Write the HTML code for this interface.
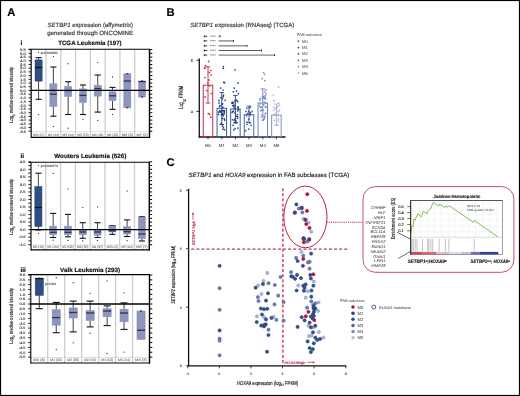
<!DOCTYPE html>
<html><head><meta charset="utf-8"><style>
html,body{margin:0;padding:0;background:#fff;}
body{width:520px;height:396px;overflow:hidden;}
svg{display:block;font-family:"Liberation Sans", sans-serif;filter:blur(0.3px);text-rendering:geometricPrecision;}
</style></head><body>
<svg width="520" height="396" viewBox="0 0 520 396">
<rect x="0" y="0" width="520" height="396" fill="#fff"/>
<text x="7.20" y="16.30" font-size="11.2" text-anchor="start" stroke="#000" stroke-width="0.16" font-weight="bold" fill="#000">A</text>
<text x="166.50" y="16.30" font-size="11.2" text-anchor="start" stroke="#000" stroke-width="0.16" font-weight="bold" fill="#000">B</text>
<text x="166.60" y="166.10" font-size="11.2" text-anchor="start" stroke="#000" stroke-width="0.16" font-weight="bold" fill="#000">C</text>
<text x="90.20" y="27.40" font-size="6.0" text-anchor="middle" stroke="#333" stroke-width="0.16" fill="#333" textLength="85.4" lengthAdjust="spacingAndGlyphs"><tspan font-style="italic">SETBP1</tspan> expression (affymetrix)</text>
<text x="90.20" y="35.10" font-size="6.0" text-anchor="middle" stroke="#333" stroke-width="0.16" fill="#333" textLength="85.9" lengthAdjust="spacingAndGlyphs">generated through ONCOMINE</text>
<text x="20.50" y="44.80" font-size="6.4" text-anchor="start" stroke="#000" stroke-width="0.16" font-weight="bold" fill="#000">i</text>
<text x="89.90" y="44.80" font-size="6.2" text-anchor="middle" stroke="#111" stroke-width="0.16" font-weight="bold" fill="#111" textLength="63.5" lengthAdjust="spacingAndGlyphs">TCGA Leukemia (197)</text>
<line x1="45.99" y1="49.30" x2="45.99" y2="137.40" stroke="#cdcdcd" stroke-width="1.3"/>
<line x1="60.77" y1="49.30" x2="60.77" y2="137.40" stroke="#cdcdcd" stroke-width="1.3"/>
<line x1="75.56" y1="49.30" x2="75.56" y2="137.40" stroke="#cdcdcd" stroke-width="1.3"/>
<line x1="90.35" y1="49.30" x2="90.35" y2="137.40" stroke="#cdcdcd" stroke-width="1.3"/>
<line x1="105.14" y1="49.30" x2="105.14" y2="137.40" stroke="#cdcdcd" stroke-width="1.3"/>
<line x1="119.92" y1="49.30" x2="119.92" y2="137.40" stroke="#cdcdcd" stroke-width="1.3"/>
<line x1="134.71" y1="49.30" x2="134.71" y2="137.40" stroke="#cdcdcd" stroke-width="1.3"/>
<line x1="31.20" y1="131.66" x2="149.50" y2="131.66" stroke="#c8c8c8" stroke-width="0.6"/>
<line x1="38.59" y1="57.60" x2="38.59" y2="59.90" stroke="#111" stroke-width="0.8"/>
<line x1="35.54" y1="57.60" x2="41.65" y2="57.60" stroke="#111" stroke-width="1.1"/>
<line x1="38.59" y1="81.10" x2="38.59" y2="99.30" stroke="#111" stroke-width="0.8"/>
<line x1="35.54" y1="99.30" x2="41.65" y2="99.30" stroke="#111" stroke-width="1.1"/>
<rect x="35.04" y="59.90" width="7.10" height="21.20" fill="#2f4e82" stroke="#1f3b72" stroke-width="0.5"/>
<line x1="35.04" y1="67.50" x2="42.14" y2="67.50" stroke="#111" stroke-width="1.3"/>
<circle cx="38.59" cy="114.50" r="0.6" fill="#111"/>
<text x="38.59" y="135.50" font-size="3.4" text-anchor="middle" stroke="#555" stroke-width="0.04" fill="#555" textLength="11.2875" lengthAdjust="spacingAndGlyphs">M0 (17)</text>
<line x1="53.38" y1="67.00" x2="53.38" y2="83.80" stroke="#111" stroke-width="0.8"/>
<line x1="50.33" y1="67.00" x2="56.43" y2="67.00" stroke="#111" stroke-width="1.1"/>
<line x1="53.38" y1="106.60" x2="53.38" y2="116.20" stroke="#111" stroke-width="0.8"/>
<line x1="50.33" y1="116.20" x2="56.43" y2="116.20" stroke="#111" stroke-width="1.1"/>
<rect x="49.83" y="83.80" width="7.10" height="22.80" fill="#8d95bd" stroke="#838bb6" stroke-width="0.5"/>
<line x1="49.83" y1="94.20" x2="56.93" y2="94.20" stroke="#2e3350" stroke-width="1.3"/>
<circle cx="53.38" cy="56.50" r="0.6" fill="#111"/>
<circle cx="53.38" cy="126.50" r="0.6" fill="#111"/>
<text x="53.38" y="135.50" font-size="3.4" text-anchor="middle" stroke="#555" stroke-width="0.04" fill="#555" textLength="11.2875" lengthAdjust="spacingAndGlyphs">M1 (44)</text>
<line x1="68.17" y1="81.70" x2="68.17" y2="86.50" stroke="#111" stroke-width="0.8"/>
<line x1="65.12" y1="81.70" x2="71.22" y2="81.70" stroke="#111" stroke-width="1.1"/>
<line x1="68.17" y1="96.60" x2="68.17" y2="114.50" stroke="#111" stroke-width="0.8"/>
<line x1="65.12" y1="114.50" x2="71.22" y2="114.50" stroke="#111" stroke-width="1.1"/>
<rect x="64.62" y="86.50" width="7.10" height="10.10" fill="#8d95bd" stroke="#838bb6" stroke-width="0.5"/>
<line x1="64.62" y1="90.60" x2="71.72" y2="90.60" stroke="#2e3350" stroke-width="1.3"/>
<circle cx="68.17" cy="63.70" r="0.6" fill="#111"/>
<circle cx="68.17" cy="128.20" r="0.6" fill="#111"/>
<text x="68.17" y="135.50" font-size="3.4" text-anchor="middle" stroke="#555" stroke-width="0.04" fill="#555" textLength="11.2875" lengthAdjust="spacingAndGlyphs">M2 (44)</text>
<line x1="82.96" y1="85.00" x2="82.96" y2="88.90" stroke="#111" stroke-width="0.8"/>
<line x1="79.90" y1="85.00" x2="86.01" y2="85.00" stroke="#111" stroke-width="1.1"/>
<line x1="82.96" y1="102.60" x2="82.96" y2="114.50" stroke="#111" stroke-width="0.8"/>
<line x1="79.90" y1="114.50" x2="86.01" y2="114.50" stroke="#111" stroke-width="1.1"/>
<rect x="79.41" y="88.90" width="7.10" height="13.70" fill="#8d95bd" stroke="#838bb6" stroke-width="0.5"/>
<line x1="79.41" y1="95.40" x2="86.51" y2="95.40" stroke="#2e3350" stroke-width="1.3"/>
<circle cx="82.96" cy="119.30" r="0.6" fill="#111"/>
<text x="82.96" y="135.50" font-size="3.4" text-anchor="middle" stroke="#555" stroke-width="0.04" fill="#555" textLength="11.2875" lengthAdjust="spacingAndGlyphs">M3 (20)</text>
<line x1="97.74" y1="75.00" x2="97.74" y2="85.30" stroke="#111" stroke-width="0.8"/>
<line x1="94.69" y1="75.00" x2="100.80" y2="75.00" stroke="#111" stroke-width="1.1"/>
<line x1="97.74" y1="96.10" x2="97.74" y2="112.10" stroke="#111" stroke-width="0.8"/>
<line x1="94.69" y1="112.10" x2="100.80" y2="112.10" stroke="#111" stroke-width="1.1"/>
<rect x="94.19" y="85.30" width="7.10" height="10.80" fill="#8d95bd" stroke="#838bb6" stroke-width="0.5"/>
<line x1="94.19" y1="88.60" x2="101.29" y2="88.60" stroke="#2e3350" stroke-width="1.3"/>
<circle cx="97.74" cy="62.50" r="0.6" fill="#111"/>
<circle cx="97.74" cy="120.50" r="0.6" fill="#111"/>
<text x="97.74" y="135.50" font-size="3.4" text-anchor="middle" stroke="#555" stroke-width="0.04" fill="#555" textLength="11.2875" lengthAdjust="spacingAndGlyphs">M4 (40)</text>
<line x1="112.53" y1="87.40" x2="112.53" y2="91.80" stroke="#111" stroke-width="0.8"/>
<line x1="109.48" y1="87.40" x2="115.58" y2="87.40" stroke="#111" stroke-width="1.1"/>
<line x1="112.53" y1="100.60" x2="112.53" y2="109.30" stroke="#111" stroke-width="0.8"/>
<line x1="109.48" y1="109.30" x2="115.58" y2="109.30" stroke="#111" stroke-width="1.1"/>
<rect x="108.98" y="91.80" width="7.10" height="8.80" fill="#8d95bd" stroke="#838bb6" stroke-width="0.5"/>
<line x1="108.98" y1="95.80" x2="116.08" y2="95.80" stroke="#2e3350" stroke-width="1.3"/>
<circle cx="112.53" cy="76.90" r="0.6" fill="#111"/>
<circle cx="112.53" cy="114.50" r="0.6" fill="#111"/>
<text x="112.53" y="135.50" font-size="3.4" text-anchor="middle" stroke="#555" stroke-width="0.04" fill="#555" textLength="11.2875" lengthAdjust="spacingAndGlyphs">M5 (20)</text>
<rect x="123.77" y="73.80" width="7.10" height="34.00" fill="#8d95bd" stroke="#838bb6" stroke-width="0.5"/>
<line x1="123.77" y1="81.00" x2="130.87" y2="81.00" stroke="#2e3350" stroke-width="1.3"/>
<text x="127.32" y="135.50" font-size="3.4" text-anchor="middle" stroke="#555" stroke-width="0.04" fill="#555" textLength="11.2875" lengthAdjust="spacingAndGlyphs">M6 (3)</text>
<line x1="126.32" y1="73.80" x2="128.32" y2="73.80" stroke="#111" stroke-width="1.0"/>
<line x1="126.32" y1="107.80" x2="128.32" y2="107.80" stroke="#111" stroke-width="1.0"/>
<rect x="138.56" y="81.00" width="7.10" height="16.00" fill="#8d95bd" stroke="#838bb6" stroke-width="0.5"/>
<line x1="138.56" y1="81.60" x2="145.66" y2="81.60" stroke="#2e3350" stroke-width="1.3"/>
<text x="142.11" y="135.50" font-size="3.4" text-anchor="middle" stroke="#555" stroke-width="0.04" fill="#555" textLength="11.2875" lengthAdjust="spacingAndGlyphs">M7 (3)</text>
<line x1="141.11" y1="81.00" x2="143.11" y2="81.00" stroke="#111" stroke-width="1.0"/>
<line x1="141.11" y1="97.00" x2="143.11" y2="97.00" stroke="#111" stroke-width="1.0"/>
<line x1="30.20" y1="90.45" x2="149.50" y2="90.45" stroke="#000" stroke-width="1.3"/>
<line x1="31.20" y1="49.30" x2="31.20" y2="137.90" stroke="#000" stroke-width="1.1"/>
<line x1="28.70" y1="49.30" x2="150.00" y2="49.30" stroke="#000" stroke-width="1.1"/>
<line x1="149.50" y1="49.30" x2="149.50" y2="137.90" stroke="#000" stroke-width="1.4"/>
<line x1="31.20" y1="137.40" x2="150.00" y2="137.40" stroke="#000" stroke-width="1.2"/>
<line x1="28.50" y1="49.64" x2="31.20" y2="49.64" stroke="#111" stroke-width="0.9"/>
<line x1="149.50" y1="49.64" x2="152.30" y2="49.64" stroke="#000" stroke-width="1.0"/>
<text x="25.70" y="50.94" font-size="3.6" text-anchor="end" stroke="#333" stroke-width="0.14" fill="#333" textLength="5.7" lengthAdjust="spacingAndGlyphs">5.5</text>
<line x1="29.70" y1="51.49" x2="31.20" y2="51.49" stroke="#444" stroke-width="0.5"/>
<line x1="28.50" y1="53.35" x2="31.20" y2="53.35" stroke="#111" stroke-width="0.9"/>
<line x1="149.50" y1="53.35" x2="152.30" y2="53.35" stroke="#000" stroke-width="1.0"/>
<text x="25.70" y="54.65" font-size="3.6" text-anchor="end" stroke="#333" stroke-width="0.14" fill="#333" textLength="5.7" lengthAdjust="spacingAndGlyphs">5.0</text>
<line x1="29.70" y1="55.20" x2="31.20" y2="55.20" stroke="#444" stroke-width="0.5"/>
<line x1="28.50" y1="57.06" x2="31.20" y2="57.06" stroke="#111" stroke-width="0.9"/>
<line x1="149.50" y1="57.06" x2="152.30" y2="57.06" stroke="#000" stroke-width="1.0"/>
<text x="25.70" y="58.36" font-size="3.6" text-anchor="end" stroke="#333" stroke-width="0.14" fill="#333" textLength="5.7" lengthAdjust="spacingAndGlyphs">4.5</text>
<line x1="29.70" y1="58.91" x2="31.20" y2="58.91" stroke="#444" stroke-width="0.5"/>
<line x1="28.50" y1="60.77" x2="31.20" y2="60.77" stroke="#111" stroke-width="0.9"/>
<line x1="149.50" y1="60.77" x2="152.30" y2="60.77" stroke="#000" stroke-width="1.0"/>
<text x="25.70" y="62.07" font-size="3.6" text-anchor="end" stroke="#333" stroke-width="0.14" fill="#333" textLength="5.7" lengthAdjust="spacingAndGlyphs">4.0</text>
<line x1="29.70" y1="62.62" x2="31.20" y2="62.62" stroke="#444" stroke-width="0.5"/>
<line x1="28.50" y1="64.48" x2="31.20" y2="64.48" stroke="#111" stroke-width="0.9"/>
<line x1="149.50" y1="64.48" x2="152.30" y2="64.48" stroke="#000" stroke-width="1.0"/>
<text x="25.70" y="65.78" font-size="3.6" text-anchor="end" stroke="#333" stroke-width="0.14" fill="#333" textLength="5.7" lengthAdjust="spacingAndGlyphs">3.5</text>
<line x1="29.70" y1="66.34" x2="31.20" y2="66.34" stroke="#444" stroke-width="0.5"/>
<line x1="28.50" y1="68.19" x2="31.20" y2="68.19" stroke="#111" stroke-width="0.9"/>
<line x1="149.50" y1="68.19" x2="152.30" y2="68.19" stroke="#000" stroke-width="1.0"/>
<text x="25.70" y="69.49" font-size="3.6" text-anchor="end" stroke="#333" stroke-width="0.14" fill="#333" textLength="5.7" lengthAdjust="spacingAndGlyphs">3.0</text>
<line x1="29.70" y1="70.05" x2="31.20" y2="70.05" stroke="#444" stroke-width="0.5"/>
<line x1="28.50" y1="71.90" x2="31.20" y2="71.90" stroke="#111" stroke-width="0.9"/>
<line x1="149.50" y1="71.90" x2="152.30" y2="71.90" stroke="#000" stroke-width="1.0"/>
<text x="25.70" y="73.20" font-size="3.6" text-anchor="end" stroke="#333" stroke-width="0.14" fill="#333" textLength="5.7" lengthAdjust="spacingAndGlyphs">2.5</text>
<line x1="29.70" y1="73.76" x2="31.20" y2="73.76" stroke="#444" stroke-width="0.5"/>
<line x1="28.50" y1="75.61" x2="31.20" y2="75.61" stroke="#111" stroke-width="0.9"/>
<line x1="149.50" y1="75.61" x2="152.30" y2="75.61" stroke="#000" stroke-width="1.0"/>
<text x="25.70" y="76.91" font-size="3.6" text-anchor="end" stroke="#333" stroke-width="0.14" fill="#333" textLength="5.7" lengthAdjust="spacingAndGlyphs">2.0</text>
<line x1="29.70" y1="77.47" x2="31.20" y2="77.47" stroke="#444" stroke-width="0.5"/>
<line x1="28.50" y1="79.32" x2="31.20" y2="79.32" stroke="#111" stroke-width="0.9"/>
<line x1="149.50" y1="79.32" x2="152.30" y2="79.32" stroke="#000" stroke-width="1.0"/>
<text x="25.70" y="80.62" font-size="3.6" text-anchor="end" stroke="#333" stroke-width="0.14" fill="#333" textLength="5.7" lengthAdjust="spacingAndGlyphs">1.5</text>
<line x1="29.70" y1="81.18" x2="31.20" y2="81.18" stroke="#444" stroke-width="0.5"/>
<line x1="28.50" y1="83.03" x2="31.20" y2="83.03" stroke="#111" stroke-width="0.9"/>
<line x1="149.50" y1="83.03" x2="152.30" y2="83.03" stroke="#000" stroke-width="1.0"/>
<text x="25.70" y="84.33" font-size="3.6" text-anchor="end" stroke="#333" stroke-width="0.14" fill="#333" textLength="5.7" lengthAdjust="spacingAndGlyphs">1.0</text>
<line x1="29.70" y1="84.89" x2="31.20" y2="84.89" stroke="#444" stroke-width="0.5"/>
<line x1="28.50" y1="86.74" x2="31.20" y2="86.74" stroke="#111" stroke-width="0.9"/>
<line x1="149.50" y1="86.74" x2="152.30" y2="86.74" stroke="#000" stroke-width="1.0"/>
<text x="25.70" y="88.04" font-size="3.6" text-anchor="end" stroke="#333" stroke-width="0.14" fill="#333" textLength="5.7" lengthAdjust="spacingAndGlyphs">0.5</text>
<line x1="29.70" y1="88.60" x2="31.20" y2="88.60" stroke="#444" stroke-width="0.5"/>
<line x1="28.50" y1="90.45" x2="31.20" y2="90.45" stroke="#111" stroke-width="0.9"/>
<line x1="149.50" y1="90.45" x2="152.30" y2="90.45" stroke="#000" stroke-width="1.0"/>
<text x="25.70" y="91.75" font-size="3.6" text-anchor="end" stroke="#333" stroke-width="0.14" fill="#333" textLength="5.7" lengthAdjust="spacingAndGlyphs">0.0</text>
<line x1="29.70" y1="92.31" x2="31.20" y2="92.31" stroke="#444" stroke-width="0.5"/>
<line x1="28.50" y1="94.16" x2="31.20" y2="94.16" stroke="#111" stroke-width="0.9"/>
<line x1="149.50" y1="94.16" x2="152.30" y2="94.16" stroke="#000" stroke-width="1.0"/>
<text x="25.70" y="95.46" font-size="3.6" text-anchor="end" stroke="#333" stroke-width="0.14" fill="#333" textLength="6.2" lengthAdjust="spacingAndGlyphs">-0.5</text>
<line x1="29.70" y1="96.02" x2="31.20" y2="96.02" stroke="#444" stroke-width="0.5"/>
<line x1="28.50" y1="97.87" x2="31.20" y2="97.87" stroke="#111" stroke-width="0.9"/>
<line x1="149.50" y1="97.87" x2="152.30" y2="97.87" stroke="#000" stroke-width="1.0"/>
<text x="25.70" y="99.17" font-size="3.6" text-anchor="end" stroke="#333" stroke-width="0.14" fill="#333" textLength="6.2" lengthAdjust="spacingAndGlyphs">-1.0</text>
<line x1="29.70" y1="99.73" x2="31.20" y2="99.73" stroke="#444" stroke-width="0.5"/>
<line x1="28.50" y1="101.58" x2="31.20" y2="101.58" stroke="#111" stroke-width="0.9"/>
<line x1="149.50" y1="101.58" x2="152.30" y2="101.58" stroke="#000" stroke-width="1.0"/>
<text x="25.70" y="102.88" font-size="3.6" text-anchor="end" stroke="#333" stroke-width="0.14" fill="#333" textLength="6.2" lengthAdjust="spacingAndGlyphs">-1.5</text>
<line x1="29.70" y1="103.44" x2="31.20" y2="103.44" stroke="#444" stroke-width="0.5"/>
<line x1="28.50" y1="105.29" x2="31.20" y2="105.29" stroke="#111" stroke-width="0.9"/>
<line x1="149.50" y1="105.29" x2="152.30" y2="105.29" stroke="#000" stroke-width="1.0"/>
<text x="25.70" y="106.59" font-size="3.6" text-anchor="end" stroke="#333" stroke-width="0.14" fill="#333" textLength="6.2" lengthAdjust="spacingAndGlyphs">-2.0</text>
<line x1="29.70" y1="107.15" x2="31.20" y2="107.15" stroke="#444" stroke-width="0.5"/>
<line x1="28.50" y1="109.00" x2="31.20" y2="109.00" stroke="#111" stroke-width="0.9"/>
<line x1="149.50" y1="109.00" x2="152.30" y2="109.00" stroke="#000" stroke-width="1.0"/>
<text x="25.70" y="110.30" font-size="3.6" text-anchor="end" stroke="#333" stroke-width="0.14" fill="#333" textLength="6.2" lengthAdjust="spacingAndGlyphs">-2.5</text>
<line x1="29.70" y1="110.86" x2="31.20" y2="110.86" stroke="#444" stroke-width="0.5"/>
<line x1="28.50" y1="112.71" x2="31.20" y2="112.71" stroke="#111" stroke-width="0.9"/>
<line x1="149.50" y1="112.71" x2="152.30" y2="112.71" stroke="#000" stroke-width="1.0"/>
<text x="25.70" y="114.01" font-size="3.6" text-anchor="end" stroke="#333" stroke-width="0.14" fill="#333" textLength="6.2" lengthAdjust="spacingAndGlyphs">-3.0</text>
<line x1="29.70" y1="114.57" x2="31.20" y2="114.57" stroke="#444" stroke-width="0.5"/>
<line x1="28.50" y1="116.42" x2="31.20" y2="116.42" stroke="#111" stroke-width="0.9"/>
<line x1="149.50" y1="116.42" x2="152.30" y2="116.42" stroke="#000" stroke-width="1.0"/>
<text x="25.70" y="117.72" font-size="3.6" text-anchor="end" stroke="#333" stroke-width="0.14" fill="#333" textLength="6.2" lengthAdjust="spacingAndGlyphs">-3.5</text>
<line x1="29.70" y1="118.28" x2="31.20" y2="118.28" stroke="#444" stroke-width="0.5"/>
<line x1="28.50" y1="120.13" x2="31.20" y2="120.13" stroke="#111" stroke-width="0.9"/>
<line x1="149.50" y1="120.13" x2="152.30" y2="120.13" stroke="#000" stroke-width="1.0"/>
<text x="25.70" y="121.43" font-size="3.6" text-anchor="end" stroke="#333" stroke-width="0.14" fill="#333" textLength="6.2" lengthAdjust="spacingAndGlyphs">-4.0</text>
<line x1="29.70" y1="121.98" x2="31.20" y2="121.98" stroke="#444" stroke-width="0.5"/>
<line x1="28.50" y1="123.84" x2="31.20" y2="123.84" stroke="#111" stroke-width="0.9"/>
<line x1="149.50" y1="123.84" x2="152.30" y2="123.84" stroke="#000" stroke-width="1.0"/>
<text x="25.70" y="125.14" font-size="3.6" text-anchor="end" stroke="#333" stroke-width="0.14" fill="#333" textLength="6.2" lengthAdjust="spacingAndGlyphs">-4.5</text>
<line x1="29.70" y1="125.70" x2="31.20" y2="125.70" stroke="#444" stroke-width="0.5"/>
<line x1="28.50" y1="127.55" x2="31.20" y2="127.55" stroke="#111" stroke-width="0.9"/>
<line x1="149.50" y1="127.55" x2="152.30" y2="127.55" stroke="#000" stroke-width="1.0"/>
<text x="25.70" y="128.85" font-size="3.6" text-anchor="end" stroke="#333" stroke-width="0.14" fill="#333" textLength="6.2" lengthAdjust="spacingAndGlyphs">-5.0</text>
<line x1="29.70" y1="129.41" x2="31.20" y2="129.41" stroke="#444" stroke-width="0.5"/>
<line x1="28.50" y1="131.26" x2="31.20" y2="131.26" stroke="#111" stroke-width="0.9"/>
<line x1="149.50" y1="131.26" x2="152.30" y2="131.26" stroke="#000" stroke-width="1.0"/>
<text x="25.70" y="132.56" font-size="3.6" text-anchor="end" stroke="#333" stroke-width="0.14" fill="#333" textLength="6.2" lengthAdjust="spacingAndGlyphs">-5.5</text>
<text x="13.20" y="94.90" font-size="5.3" text-anchor="middle" stroke="#222" stroke-width="0.14" fill="#222" textLength="55.7" lengthAdjust="spacingAndGlyphs" transform="rotate(-90 13.20 94.90)">Log<tspan font-size="3.6" dy="1.5">2</tspan><tspan dy="-1.5"> median-centered intensity</tspan></text>
<circle cx="38.40" cy="52.40" r="0.55" fill="#222"/>
<text x="40.80" y="53.50" font-size="3.2" text-anchor="start" stroke="#444" stroke-width="0.12" fill="#444" textLength="17" lengthAdjust="spacingAndGlyphs">p=0.000061</text>
<text x="20.50" y="158.30" font-size="6.4" text-anchor="start" stroke="#000" stroke-width="0.16" font-weight="bold" fill="#000">ii</text>
<text x="90.30" y="158.30" font-size="6.2" text-anchor="middle" stroke="#111" stroke-width="0.16" font-weight="bold" fill="#111" textLength="72" lengthAdjust="spacingAndGlyphs">Wouters Leukemia (526)</text>
<line x1="45.79" y1="162.20" x2="45.79" y2="249.90" stroke="#cdcdcd" stroke-width="1.3"/>
<line x1="60.58" y1="162.20" x2="60.58" y2="249.90" stroke="#cdcdcd" stroke-width="1.3"/>
<line x1="75.36" y1="162.20" x2="75.36" y2="249.90" stroke="#cdcdcd" stroke-width="1.3"/>
<line x1="90.15" y1="162.20" x2="90.15" y2="249.90" stroke="#cdcdcd" stroke-width="1.3"/>
<line x1="104.94" y1="162.20" x2="104.94" y2="249.90" stroke="#cdcdcd" stroke-width="1.3"/>
<line x1="119.73" y1="162.20" x2="119.73" y2="249.90" stroke="#cdcdcd" stroke-width="1.3"/>
<line x1="134.51" y1="162.20" x2="134.51" y2="249.90" stroke="#cdcdcd" stroke-width="1.3"/>
<line x1="31.00" y1="245.06" x2="149.30" y2="245.06" stroke="#c8c8c8" stroke-width="0.6"/>
<line x1="38.39" y1="173.20" x2="38.39" y2="186.60" stroke="#111" stroke-width="0.8"/>
<line x1="35.34" y1="173.20" x2="41.45" y2="173.20" stroke="#111" stroke-width="1.1"/>
<line x1="38.39" y1="226.50" x2="38.39" y2="230.00" stroke="#111" stroke-width="0.8"/>
<line x1="35.34" y1="230.00" x2="41.45" y2="230.00" stroke="#111" stroke-width="1.1"/>
<rect x="34.84" y="186.60" width="7.10" height="39.90" fill="#2f4e82" stroke="#1f3b72" stroke-width="0.5"/>
<line x1="34.84" y1="207.50" x2="41.94" y2="207.50" stroke="#111" stroke-width="1.3"/>
<circle cx="38.39" cy="233.30" r="0.6" fill="#111"/>
<text x="38.39" y="248.00" font-size="3.4" text-anchor="middle" stroke="#555" stroke-width="0.04" fill="#555" textLength="11.287500000000001" lengthAdjust="spacingAndGlyphs">M0 (16)</text>
<line x1="53.18" y1="213.40" x2="53.18" y2="226.20" stroke="#111" stroke-width="0.8"/>
<line x1="50.13" y1="213.40" x2="56.23" y2="213.40" stroke="#111" stroke-width="1.1"/>
<line x1="53.18" y1="234.80" x2="53.18" y2="237.50" stroke="#111" stroke-width="0.8"/>
<line x1="50.13" y1="237.50" x2="56.23" y2="237.50" stroke="#111" stroke-width="1.1"/>
<rect x="49.63" y="226.20" width="7.10" height="8.60" fill="#8d95bd" stroke="#838bb6" stroke-width="0.5"/>
<line x1="49.63" y1="232.30" x2="56.73" y2="232.30" stroke="#2e3350" stroke-width="1.3"/>
<circle cx="53.18" cy="173.40" r="0.6" fill="#111"/>
<circle cx="53.18" cy="240.20" r="0.6" fill="#111"/>
<text x="53.18" y="248.00" font-size="3.4" text-anchor="middle" stroke="#555" stroke-width="0.04" fill="#555" textLength="11.287500000000001" lengthAdjust="spacingAndGlyphs">M1 (104)</text>
<line x1="67.97" y1="214.40" x2="67.97" y2="226.20" stroke="#111" stroke-width="0.8"/>
<line x1="64.92" y1="214.40" x2="71.02" y2="214.40" stroke="#111" stroke-width="1.1"/>
<line x1="67.97" y1="234.80" x2="67.97" y2="236.80" stroke="#111" stroke-width="0.8"/>
<line x1="64.92" y1="236.80" x2="71.02" y2="236.80" stroke="#111" stroke-width="1.1"/>
<rect x="64.42" y="226.20" width="7.10" height="8.60" fill="#8d95bd" stroke="#838bb6" stroke-width="0.5"/>
<line x1="64.42" y1="232.30" x2="71.52" y2="232.30" stroke="#2e3350" stroke-width="1.3"/>
<circle cx="67.97" cy="189.00" r="0.6" fill="#111"/>
<circle cx="67.97" cy="240.40" r="0.6" fill="#111"/>
<text x="67.97" y="248.00" font-size="3.4" text-anchor="middle" stroke="#555" stroke-width="0.04" fill="#555" textLength="11.287500000000001" lengthAdjust="spacingAndGlyphs">M2 (136)</text>
<line x1="82.76" y1="222.70" x2="82.76" y2="230.00" stroke="#111" stroke-width="0.8"/>
<line x1="79.70" y1="222.70" x2="85.81" y2="222.70" stroke="#111" stroke-width="1.1"/>
<line x1="82.76" y1="234.80" x2="82.76" y2="238.30" stroke="#111" stroke-width="0.8"/>
<line x1="79.70" y1="238.30" x2="85.81" y2="238.30" stroke="#111" stroke-width="1.1"/>
<rect x="79.21" y="230.00" width="7.10" height="4.80" fill="#8d95bd" stroke="#838bb6" stroke-width="0.5"/>
<line x1="79.21" y1="232.00" x2="86.31" y2="232.00" stroke="#2e3350" stroke-width="1.3"/>
<circle cx="82.76" cy="207.50" r="0.6" fill="#111"/>
<circle cx="82.76" cy="240.90" r="0.6" fill="#111"/>
<text x="82.76" y="248.00" font-size="3.4" text-anchor="middle" stroke="#555" stroke-width="0.04" fill="#555" textLength="11.287500000000001" lengthAdjust="spacingAndGlyphs">M3 (20)</text>
<line x1="97.54" y1="222.70" x2="97.54" y2="229.50" stroke="#111" stroke-width="0.8"/>
<line x1="94.49" y1="222.70" x2="100.60" y2="222.70" stroke="#111" stroke-width="1.1"/>
<line x1="97.54" y1="235.30" x2="97.54" y2="237.50" stroke="#111" stroke-width="0.8"/>
<line x1="94.49" y1="237.50" x2="100.60" y2="237.50" stroke="#111" stroke-width="1.1"/>
<rect x="93.99" y="229.50" width="7.10" height="5.80" fill="#8d95bd" stroke="#838bb6" stroke-width="0.5"/>
<line x1="93.99" y1="232.00" x2="101.09" y2="232.00" stroke="#2e3350" stroke-width="1.3"/>
<circle cx="97.54" cy="206.80" r="0.6" fill="#111"/>
<circle cx="97.54" cy="240.40" r="0.6" fill="#111"/>
<text x="97.54" y="248.00" font-size="3.4" text-anchor="middle" stroke="#555" stroke-width="0.04" fill="#555" textLength="11.287500000000001" lengthAdjust="spacingAndGlyphs">M4 (87)</text>
<line x1="112.33" y1="225.70" x2="112.33" y2="226.00" stroke="#111" stroke-width="0.8"/>
<line x1="109.28" y1="225.70" x2="115.38" y2="225.70" stroke="#111" stroke-width="1.1"/>
<line x1="112.33" y1="232.00" x2="112.33" y2="234.40" stroke="#111" stroke-width="0.8"/>
<line x1="109.28" y1="234.40" x2="115.38" y2="234.40" stroke="#111" stroke-width="1.1"/>
<rect x="108.78" y="226.00" width="7.10" height="6.00" fill="#8d95bd" stroke="#838bb6" stroke-width="0.5"/>
<line x1="108.78" y1="230.80" x2="115.88" y2="230.80" stroke="#2e3350" stroke-width="1.3"/>
<text x="112.33" y="248.00" font-size="3.4" text-anchor="middle" stroke="#555" stroke-width="0.04" fill="#555" textLength="11.287500000000001" lengthAdjust="spacingAndGlyphs">M4Eo (3)</text>
<line x1="127.12" y1="219.90" x2="127.12" y2="226.70" stroke="#111" stroke-width="0.8"/>
<line x1="124.07" y1="219.90" x2="130.17" y2="219.90" stroke="#111" stroke-width="1.1"/>
<line x1="127.12" y1="234.00" x2="127.12" y2="236.50" stroke="#111" stroke-width="0.8"/>
<line x1="124.07" y1="236.50" x2="130.17" y2="236.50" stroke="#111" stroke-width="1.1"/>
<rect x="123.57" y="226.70" width="7.10" height="7.30" fill="#8d95bd" stroke="#838bb6" stroke-width="0.5"/>
<line x1="123.57" y1="231.70" x2="130.67" y2="231.70" stroke="#2e3350" stroke-width="1.3"/>
<circle cx="127.12" cy="190.90" r="0.6" fill="#111"/>
<circle cx="127.12" cy="240.60" r="0.6" fill="#111"/>
<text x="127.12" y="248.00" font-size="3.4" text-anchor="middle" stroke="#555" stroke-width="0.04" fill="#555" textLength="11.287500000000001" lengthAdjust="spacingAndGlyphs">M5 (114)</text>
<line x1="141.91" y1="216.70" x2="141.91" y2="217.10" stroke="#111" stroke-width="0.8"/>
<line x1="138.85" y1="216.70" x2="144.96" y2="216.70" stroke="#111" stroke-width="1.1"/>
<line x1="141.91" y1="238.60" x2="141.91" y2="241.00" stroke="#111" stroke-width="0.8"/>
<line x1="138.85" y1="241.00" x2="144.96" y2="241.00" stroke="#111" stroke-width="1.1"/>
<rect x="138.36" y="217.10" width="7.10" height="21.50" fill="#8d95bd" stroke="#838bb6" stroke-width="0.5"/>
<line x1="138.36" y1="234.00" x2="145.46" y2="234.00" stroke="#2e3350" stroke-width="1.3"/>
<text x="141.91" y="248.00" font-size="3.4" text-anchor="middle" stroke="#555" stroke-width="0.04" fill="#555" textLength="11.287500000000001" lengthAdjust="spacingAndGlyphs">M6 (7)</text>
<line x1="30.00" y1="229.60" x2="149.30" y2="229.60" stroke="#000" stroke-width="1.3"/>
<line x1="31.00" y1="162.20" x2="31.00" y2="250.40" stroke="#000" stroke-width="1.1"/>
<line x1="28.50" y1="162.20" x2="149.80" y2="162.20" stroke="#000" stroke-width="1.1"/>
<line x1="149.30" y1="162.20" x2="149.30" y2="250.40" stroke="#000" stroke-width="1.4"/>
<line x1="31.00" y1="249.90" x2="149.80" y2="249.90" stroke="#000" stroke-width="1.2"/>
<line x1="28.30" y1="161.83" x2="31.00" y2="161.83" stroke="#111" stroke-width="0.9"/>
<line x1="149.30" y1="161.83" x2="152.10" y2="161.83" stroke="#000" stroke-width="1.0"/>
<text x="25.50" y="163.13" font-size="3.6" text-anchor="end" stroke="#333" stroke-width="0.14" fill="#333" textLength="5.7" lengthAdjust="spacingAndGlyphs">4.5</text>
<line x1="28.30" y1="165.59" x2="31.00" y2="165.59" stroke="#111" stroke-width="0.9"/>
<line x1="149.30" y1="165.59" x2="152.10" y2="165.59" stroke="#000" stroke-width="1.0"/>
<line x1="28.30" y1="169.36" x2="31.00" y2="169.36" stroke="#111" stroke-width="0.9"/>
<line x1="149.30" y1="169.36" x2="152.10" y2="169.36" stroke="#000" stroke-width="1.0"/>
<text x="25.50" y="170.66" font-size="3.6" text-anchor="end" stroke="#333" stroke-width="0.14" fill="#333" textLength="5.7" lengthAdjust="spacingAndGlyphs">4.0</text>
<line x1="28.30" y1="173.12" x2="31.00" y2="173.12" stroke="#111" stroke-width="0.9"/>
<line x1="149.30" y1="173.12" x2="152.10" y2="173.12" stroke="#000" stroke-width="1.0"/>
<line x1="28.30" y1="176.89" x2="31.00" y2="176.89" stroke="#111" stroke-width="0.9"/>
<line x1="149.30" y1="176.89" x2="152.10" y2="176.89" stroke="#000" stroke-width="1.0"/>
<text x="25.50" y="178.19" font-size="3.6" text-anchor="end" stroke="#333" stroke-width="0.14" fill="#333" textLength="5.7" lengthAdjust="spacingAndGlyphs">3.5</text>
<line x1="28.30" y1="180.65" x2="31.00" y2="180.65" stroke="#111" stroke-width="0.9"/>
<line x1="149.30" y1="180.65" x2="152.10" y2="180.65" stroke="#000" stroke-width="1.0"/>
<line x1="28.30" y1="184.42" x2="31.00" y2="184.42" stroke="#111" stroke-width="0.9"/>
<line x1="149.30" y1="184.42" x2="152.10" y2="184.42" stroke="#000" stroke-width="1.0"/>
<text x="25.50" y="185.72" font-size="3.6" text-anchor="end" stroke="#333" stroke-width="0.14" fill="#333" textLength="5.7" lengthAdjust="spacingAndGlyphs">3.0</text>
<line x1="28.30" y1="188.18" x2="31.00" y2="188.18" stroke="#111" stroke-width="0.9"/>
<line x1="149.30" y1="188.18" x2="152.10" y2="188.18" stroke="#000" stroke-width="1.0"/>
<line x1="28.30" y1="191.95" x2="31.00" y2="191.95" stroke="#111" stroke-width="0.9"/>
<line x1="149.30" y1="191.95" x2="152.10" y2="191.95" stroke="#000" stroke-width="1.0"/>
<text x="25.50" y="193.25" font-size="3.6" text-anchor="end" stroke="#333" stroke-width="0.14" fill="#333" textLength="5.7" lengthAdjust="spacingAndGlyphs">2.5</text>
<line x1="28.30" y1="195.71" x2="31.00" y2="195.71" stroke="#111" stroke-width="0.9"/>
<line x1="149.30" y1="195.71" x2="152.10" y2="195.71" stroke="#000" stroke-width="1.0"/>
<line x1="28.30" y1="199.48" x2="31.00" y2="199.48" stroke="#111" stroke-width="0.9"/>
<line x1="149.30" y1="199.48" x2="152.10" y2="199.48" stroke="#000" stroke-width="1.0"/>
<text x="25.50" y="200.78" font-size="3.6" text-anchor="end" stroke="#333" stroke-width="0.14" fill="#333" textLength="5.7" lengthAdjust="spacingAndGlyphs">2.0</text>
<line x1="28.30" y1="203.24" x2="31.00" y2="203.24" stroke="#111" stroke-width="0.9"/>
<line x1="149.30" y1="203.24" x2="152.10" y2="203.24" stroke="#000" stroke-width="1.0"/>
<line x1="28.30" y1="207.01" x2="31.00" y2="207.01" stroke="#111" stroke-width="0.9"/>
<line x1="149.30" y1="207.01" x2="152.10" y2="207.01" stroke="#000" stroke-width="1.0"/>
<text x="25.50" y="208.31" font-size="3.6" text-anchor="end" stroke="#333" stroke-width="0.14" fill="#333" textLength="5.7" lengthAdjust="spacingAndGlyphs">1.5</text>
<line x1="28.30" y1="210.77" x2="31.00" y2="210.77" stroke="#111" stroke-width="0.9"/>
<line x1="149.30" y1="210.77" x2="152.10" y2="210.77" stroke="#000" stroke-width="1.0"/>
<line x1="28.30" y1="214.54" x2="31.00" y2="214.54" stroke="#111" stroke-width="0.9"/>
<line x1="149.30" y1="214.54" x2="152.10" y2="214.54" stroke="#000" stroke-width="1.0"/>
<text x="25.50" y="215.84" font-size="3.6" text-anchor="end" stroke="#333" stroke-width="0.14" fill="#333" textLength="5.7" lengthAdjust="spacingAndGlyphs">1.0</text>
<line x1="28.30" y1="218.30" x2="31.00" y2="218.30" stroke="#111" stroke-width="0.9"/>
<line x1="149.30" y1="218.30" x2="152.10" y2="218.30" stroke="#000" stroke-width="1.0"/>
<line x1="28.30" y1="222.07" x2="31.00" y2="222.07" stroke="#111" stroke-width="0.9"/>
<line x1="149.30" y1="222.07" x2="152.10" y2="222.07" stroke="#000" stroke-width="1.0"/>
<text x="25.50" y="223.37" font-size="3.6" text-anchor="end" stroke="#333" stroke-width="0.14" fill="#333" textLength="5.7" lengthAdjust="spacingAndGlyphs">0.5</text>
<line x1="28.30" y1="225.83" x2="31.00" y2="225.83" stroke="#111" stroke-width="0.9"/>
<line x1="149.30" y1="225.83" x2="152.10" y2="225.83" stroke="#000" stroke-width="1.0"/>
<line x1="28.30" y1="229.60" x2="31.00" y2="229.60" stroke="#111" stroke-width="0.9"/>
<line x1="149.30" y1="229.60" x2="152.10" y2="229.60" stroke="#000" stroke-width="1.0"/>
<text x="25.50" y="230.90" font-size="3.6" text-anchor="end" stroke="#333" stroke-width="0.14" fill="#333" textLength="5.7" lengthAdjust="spacingAndGlyphs">0.0</text>
<line x1="28.30" y1="233.36" x2="31.00" y2="233.36" stroke="#111" stroke-width="0.9"/>
<line x1="149.30" y1="233.36" x2="152.10" y2="233.36" stroke="#000" stroke-width="1.0"/>
<line x1="28.30" y1="237.13" x2="31.00" y2="237.13" stroke="#111" stroke-width="0.9"/>
<line x1="149.30" y1="237.13" x2="152.10" y2="237.13" stroke="#000" stroke-width="1.0"/>
<text x="25.50" y="238.43" font-size="3.6" text-anchor="end" stroke="#333" stroke-width="0.14" fill="#333" textLength="6.2" lengthAdjust="spacingAndGlyphs">-0.5</text>
<line x1="28.30" y1="240.89" x2="31.00" y2="240.89" stroke="#111" stroke-width="0.9"/>
<line x1="149.30" y1="240.89" x2="152.10" y2="240.89" stroke="#000" stroke-width="1.0"/>
<line x1="28.30" y1="244.66" x2="31.00" y2="244.66" stroke="#111" stroke-width="0.9"/>
<line x1="149.30" y1="244.66" x2="152.10" y2="244.66" stroke="#000" stroke-width="1.0"/>
<text x="25.50" y="245.96" font-size="3.6" text-anchor="end" stroke="#333" stroke-width="0.14" fill="#333" textLength="6.2" lengthAdjust="spacingAndGlyphs">-1.0</text>
<text x="13.20" y="206.90" font-size="5.3" text-anchor="middle" stroke="#222" stroke-width="0.14" fill="#222" textLength="55.7" lengthAdjust="spacingAndGlyphs" transform="rotate(-90 13.20 206.90)">Log<tspan font-size="3.6" dy="1.5">2</tspan><tspan dy="-1.5"> median-centered intensity</tspan></text>
<circle cx="38.40" cy="165.60" r="0.55" fill="#222"/>
<text x="40.80" y="166.70" font-size="3.2" text-anchor="start" stroke="#444" stroke-width="0.12" fill="#444" textLength="17" lengthAdjust="spacingAndGlyphs">p=0.000174</text>
<text x="20.50" y="271.60" font-size="6.4" text-anchor="start" stroke="#000" stroke-width="0.16" font-weight="bold" fill="#000">iii</text>
<text x="90.10" y="271.60" font-size="6.2" text-anchor="middle" stroke="#111" stroke-width="0.16" font-weight="bold" fill="#111" textLength="60" lengthAdjust="spacingAndGlyphs">Valk Leukemia (293)</text>
<line x1="47.76" y1="274.60" x2="47.76" y2="363.00" stroke="#cdcdcd" stroke-width="1.3"/>
<line x1="64.71" y1="274.60" x2="64.71" y2="363.00" stroke="#cdcdcd" stroke-width="1.3"/>
<line x1="81.67" y1="274.60" x2="81.67" y2="363.00" stroke="#cdcdcd" stroke-width="1.3"/>
<line x1="98.63" y1="274.60" x2="98.63" y2="363.00" stroke="#cdcdcd" stroke-width="1.3"/>
<line x1="115.59" y1="274.60" x2="115.59" y2="363.00" stroke="#cdcdcd" stroke-width="1.3"/>
<line x1="132.54" y1="274.60" x2="132.54" y2="363.00" stroke="#cdcdcd" stroke-width="1.3"/>
<line x1="30.80" y1="357.47" x2="149.50" y2="357.47" stroke="#c8c8c8" stroke-width="0.6"/>
<line x1="39.28" y1="295.40" x2="39.28" y2="308.70" stroke="#111" stroke-width="0.8"/>
<line x1="35.78" y1="308.70" x2="42.78" y2="308.70" stroke="#111" stroke-width="1.1"/>
<rect x="35.21" y="278.20" width="8.14" height="17.20" fill="#2f4e82" stroke="#1f3b72" stroke-width="0.5"/>
<line x1="35.21" y1="278.60" x2="43.35" y2="278.60" stroke="#111" stroke-width="1.3"/>
<text x="39.28" y="361.10" font-size="3.4" text-anchor="middle" stroke="#555" stroke-width="0.04" fill="#555" textLength="11.8685" lengthAdjust="spacingAndGlyphs">M0 (8)</text>
<line x1="38.28" y1="278.20" x2="40.28" y2="278.20" stroke="#111" stroke-width="1.0"/>
<line x1="56.24" y1="302.40" x2="56.24" y2="309.70" stroke="#111" stroke-width="0.8"/>
<line x1="52.74" y1="302.40" x2="59.74" y2="302.40" stroke="#111" stroke-width="1.1"/>
<line x1="56.24" y1="325.20" x2="56.24" y2="332.70" stroke="#111" stroke-width="0.8"/>
<line x1="52.74" y1="332.70" x2="59.74" y2="332.70" stroke="#111" stroke-width="1.1"/>
<rect x="52.17" y="309.70" width="8.14" height="15.50" fill="#8d95bd" stroke="#838bb6" stroke-width="0.5"/>
<line x1="52.17" y1="317.60" x2="60.31" y2="317.60" stroke="#2e3350" stroke-width="1.3"/>
<circle cx="56.24" cy="277.70" r="0.6" fill="#111"/>
<circle cx="56.24" cy="349.60" r="0.6" fill="#111"/>
<text x="56.24" y="361.10" font-size="3.4" text-anchor="middle" stroke="#555" stroke-width="0.04" fill="#555" textLength="11.8685" lengthAdjust="spacingAndGlyphs">M1 (63)</text>
<line x1="73.19" y1="301.10" x2="73.19" y2="307.90" stroke="#111" stroke-width="0.8"/>
<line x1="69.69" y1="301.10" x2="76.69" y2="301.10" stroke="#111" stroke-width="1.1"/>
<line x1="73.19" y1="318.00" x2="73.19" y2="331.90" stroke="#111" stroke-width="0.8"/>
<line x1="69.69" y1="331.90" x2="76.69" y2="331.90" stroke="#111" stroke-width="1.1"/>
<rect x="69.12" y="307.90" width="8.14" height="10.10" fill="#8d95bd" stroke="#838bb6" stroke-width="0.5"/>
<line x1="69.12" y1="312.50" x2="77.26" y2="312.50" stroke="#2e3350" stroke-width="1.3"/>
<circle cx="73.19" cy="282.70" r="0.6" fill="#111"/>
<circle cx="73.19" cy="342.80" r="0.6" fill="#111"/>
<text x="73.19" y="361.10" font-size="3.4" text-anchor="middle" stroke="#555" stroke-width="0.04" fill="#555" textLength="11.8685" lengthAdjust="spacingAndGlyphs">M2 (69)</text>
<line x1="90.15" y1="301.10" x2="90.15" y2="310.50" stroke="#111" stroke-width="0.8"/>
<line x1="86.65" y1="301.10" x2="93.65" y2="301.10" stroke="#111" stroke-width="1.1"/>
<line x1="90.15" y1="320.60" x2="90.15" y2="326.90" stroke="#111" stroke-width="0.8"/>
<line x1="86.65" y1="326.90" x2="93.65" y2="326.90" stroke="#111" stroke-width="1.1"/>
<rect x="86.08" y="310.50" width="8.14" height="10.10" fill="#8d95bd" stroke="#838bb6" stroke-width="0.5"/>
<line x1="86.08" y1="313.00" x2="94.22" y2="313.00" stroke="#2e3350" stroke-width="1.3"/>
<circle cx="90.15" cy="293.30" r="0.6" fill="#111"/>
<circle cx="90.15" cy="333.20" r="0.6" fill="#111"/>
<text x="90.15" y="361.10" font-size="3.4" text-anchor="middle" stroke="#555" stroke-width="0.04" fill="#555" textLength="11.8685" lengthAdjust="spacingAndGlyphs">M3 (16)</text>
<line x1="107.11" y1="305.90" x2="107.11" y2="308.70" stroke="#111" stroke-width="0.8"/>
<line x1="103.61" y1="305.90" x2="110.61" y2="305.90" stroke="#111" stroke-width="1.1"/>
<line x1="107.11" y1="316.80" x2="107.11" y2="325.60" stroke="#111" stroke-width="0.8"/>
<line x1="103.61" y1="325.60" x2="110.61" y2="325.60" stroke="#111" stroke-width="1.1"/>
<rect x="103.04" y="308.70" width="8.14" height="8.10" fill="#8d95bd" stroke="#838bb6" stroke-width="0.5"/>
<line x1="103.04" y1="311.00" x2="111.18" y2="311.00" stroke="#2e3350" stroke-width="1.3"/>
<circle cx="107.11" cy="280.90" r="0.6" fill="#111"/>
<circle cx="107.11" cy="353.40" r="0.6" fill="#111"/>
<text x="107.11" y="361.10" font-size="3.4" text-anchor="middle" stroke="#555" stroke-width="0.04" fill="#555" textLength="11.8685" lengthAdjust="spacingAndGlyphs">M4 (53)</text>
<line x1="124.06" y1="302.90" x2="124.06" y2="309.20" stroke="#111" stroke-width="0.8"/>
<line x1="120.56" y1="302.90" x2="127.56" y2="302.90" stroke="#111" stroke-width="1.1"/>
<line x1="124.06" y1="321.80" x2="124.06" y2="329.40" stroke="#111" stroke-width="0.8"/>
<line x1="120.56" y1="329.40" x2="127.56" y2="329.40" stroke="#111" stroke-width="1.1"/>
<rect x="119.99" y="309.20" width="8.14" height="12.60" fill="#8d95bd" stroke="#838bb6" stroke-width="0.5"/>
<line x1="119.99" y1="313.00" x2="128.13" y2="313.00" stroke="#2e3350" stroke-width="1.3"/>
<circle cx="124.06" cy="292.80" r="0.6" fill="#111"/>
<circle cx="124.06" cy="352.10" r="0.6" fill="#111"/>
<text x="124.06" y="361.10" font-size="3.4" text-anchor="middle" stroke="#555" stroke-width="0.04" fill="#555" textLength="11.8685" lengthAdjust="spacingAndGlyphs">M5 (44)</text>
<rect x="136.95" y="311.00" width="8.14" height="28.50" fill="#8d95bd" stroke="#838bb6" stroke-width="0.5"/>
<line x1="136.95" y1="330.20" x2="145.09" y2="330.20" stroke="#2e3350" stroke-width="1.3"/>
<text x="141.02" y="361.10" font-size="3.4" text-anchor="middle" stroke="#555" stroke-width="0.04" fill="#555" textLength="11.8685" lengthAdjust="spacingAndGlyphs">M6 (3)</text>
<line x1="140.02" y1="311.00" x2="142.02" y2="311.00" stroke="#111" stroke-width="1.0"/>
<line x1="29.80" y1="304.00" x2="149.50" y2="304.00" stroke="#000" stroke-width="1.3"/>
<line x1="30.80" y1="274.60" x2="30.80" y2="363.50" stroke="#000" stroke-width="1.1"/>
<line x1="28.30" y1="274.60" x2="150.00" y2="274.60" stroke="#000" stroke-width="1.1"/>
<line x1="149.50" y1="274.60" x2="149.50" y2="363.50" stroke="#000" stroke-width="1.4"/>
<line x1="30.80" y1="363.00" x2="150.00" y2="363.00" stroke="#000" stroke-width="1.2"/>
<line x1="28.10" y1="275.05" x2="30.80" y2="275.05" stroke="#111" stroke-width="0.9"/>
<line x1="149.50" y1="275.05" x2="152.30" y2="275.05" stroke="#000" stroke-width="1.0"/>
<text x="25.30" y="276.35" font-size="3.6" text-anchor="end" stroke="#333" stroke-width="0.14" fill="#333" textLength="5.7" lengthAdjust="spacingAndGlyphs">3.0</text>
<line x1="29.30" y1="277.46" x2="30.80" y2="277.46" stroke="#444" stroke-width="0.5"/>
<line x1="28.10" y1="279.88" x2="30.80" y2="279.88" stroke="#111" stroke-width="0.9"/>
<line x1="149.50" y1="279.88" x2="152.30" y2="279.88" stroke="#000" stroke-width="1.0"/>
<text x="25.30" y="281.18" font-size="3.6" text-anchor="end" stroke="#333" stroke-width="0.14" fill="#333" textLength="5.7" lengthAdjust="spacingAndGlyphs">2.5</text>
<line x1="29.30" y1="282.29" x2="30.80" y2="282.29" stroke="#444" stroke-width="0.5"/>
<line x1="28.10" y1="284.70" x2="30.80" y2="284.70" stroke="#111" stroke-width="0.9"/>
<line x1="149.50" y1="284.70" x2="152.30" y2="284.70" stroke="#000" stroke-width="1.0"/>
<text x="25.30" y="286.00" font-size="3.6" text-anchor="end" stroke="#333" stroke-width="0.14" fill="#333" textLength="5.7" lengthAdjust="spacingAndGlyphs">2.0</text>
<line x1="29.30" y1="287.11" x2="30.80" y2="287.11" stroke="#444" stroke-width="0.5"/>
<line x1="28.10" y1="289.52" x2="30.80" y2="289.52" stroke="#111" stroke-width="0.9"/>
<line x1="149.50" y1="289.52" x2="152.30" y2="289.52" stroke="#000" stroke-width="1.0"/>
<text x="25.30" y="290.82" font-size="3.6" text-anchor="end" stroke="#333" stroke-width="0.14" fill="#333" textLength="5.7" lengthAdjust="spacingAndGlyphs">1.5</text>
<line x1="29.30" y1="291.94" x2="30.80" y2="291.94" stroke="#444" stroke-width="0.5"/>
<line x1="28.10" y1="294.35" x2="30.80" y2="294.35" stroke="#111" stroke-width="0.9"/>
<line x1="149.50" y1="294.35" x2="152.30" y2="294.35" stroke="#000" stroke-width="1.0"/>
<text x="25.30" y="295.65" font-size="3.6" text-anchor="end" stroke="#333" stroke-width="0.14" fill="#333" textLength="5.7" lengthAdjust="spacingAndGlyphs">1.0</text>
<line x1="29.30" y1="296.76" x2="30.80" y2="296.76" stroke="#444" stroke-width="0.5"/>
<line x1="28.10" y1="299.18" x2="30.80" y2="299.18" stroke="#111" stroke-width="0.9"/>
<line x1="149.50" y1="299.18" x2="152.30" y2="299.18" stroke="#000" stroke-width="1.0"/>
<text x="25.30" y="300.48" font-size="3.6" text-anchor="end" stroke="#333" stroke-width="0.14" fill="#333" textLength="5.7" lengthAdjust="spacingAndGlyphs">0.5</text>
<line x1="29.30" y1="301.59" x2="30.80" y2="301.59" stroke="#444" stroke-width="0.5"/>
<line x1="28.10" y1="304.00" x2="30.80" y2="304.00" stroke="#111" stroke-width="0.9"/>
<line x1="149.50" y1="304.00" x2="152.30" y2="304.00" stroke="#000" stroke-width="1.0"/>
<text x="25.30" y="305.30" font-size="3.6" text-anchor="end" stroke="#333" stroke-width="0.14" fill="#333" textLength="5.7" lengthAdjust="spacingAndGlyphs">0.0</text>
<line x1="29.30" y1="306.41" x2="30.80" y2="306.41" stroke="#444" stroke-width="0.5"/>
<line x1="28.10" y1="308.82" x2="30.80" y2="308.82" stroke="#111" stroke-width="0.9"/>
<line x1="149.50" y1="308.82" x2="152.30" y2="308.82" stroke="#000" stroke-width="1.0"/>
<text x="25.30" y="310.12" font-size="3.6" text-anchor="end" stroke="#333" stroke-width="0.14" fill="#333" textLength="6.2" lengthAdjust="spacingAndGlyphs">-0.5</text>
<line x1="29.30" y1="311.24" x2="30.80" y2="311.24" stroke="#444" stroke-width="0.5"/>
<line x1="28.10" y1="313.65" x2="30.80" y2="313.65" stroke="#111" stroke-width="0.9"/>
<line x1="149.50" y1="313.65" x2="152.30" y2="313.65" stroke="#000" stroke-width="1.0"/>
<text x="25.30" y="314.95" font-size="3.6" text-anchor="end" stroke="#333" stroke-width="0.14" fill="#333" textLength="6.2" lengthAdjust="spacingAndGlyphs">-1.0</text>
<line x1="29.30" y1="316.06" x2="30.80" y2="316.06" stroke="#444" stroke-width="0.5"/>
<line x1="28.10" y1="318.48" x2="30.80" y2="318.48" stroke="#111" stroke-width="0.9"/>
<line x1="149.50" y1="318.48" x2="152.30" y2="318.48" stroke="#000" stroke-width="1.0"/>
<text x="25.30" y="319.78" font-size="3.6" text-anchor="end" stroke="#333" stroke-width="0.14" fill="#333" textLength="6.2" lengthAdjust="spacingAndGlyphs">-1.5</text>
<line x1="29.30" y1="320.89" x2="30.80" y2="320.89" stroke="#444" stroke-width="0.5"/>
<line x1="28.10" y1="323.30" x2="30.80" y2="323.30" stroke="#111" stroke-width="0.9"/>
<line x1="149.50" y1="323.30" x2="152.30" y2="323.30" stroke="#000" stroke-width="1.0"/>
<text x="25.30" y="324.60" font-size="3.6" text-anchor="end" stroke="#333" stroke-width="0.14" fill="#333" textLength="6.2" lengthAdjust="spacingAndGlyphs">-2.0</text>
<line x1="29.30" y1="325.71" x2="30.80" y2="325.71" stroke="#444" stroke-width="0.5"/>
<line x1="28.10" y1="328.12" x2="30.80" y2="328.12" stroke="#111" stroke-width="0.9"/>
<line x1="149.50" y1="328.12" x2="152.30" y2="328.12" stroke="#000" stroke-width="1.0"/>
<text x="25.30" y="329.43" font-size="3.6" text-anchor="end" stroke="#333" stroke-width="0.14" fill="#333" textLength="6.2" lengthAdjust="spacingAndGlyphs">-2.5</text>
<line x1="29.30" y1="330.54" x2="30.80" y2="330.54" stroke="#444" stroke-width="0.5"/>
<line x1="28.10" y1="332.95" x2="30.80" y2="332.95" stroke="#111" stroke-width="0.9"/>
<line x1="149.50" y1="332.95" x2="152.30" y2="332.95" stroke="#000" stroke-width="1.0"/>
<text x="25.30" y="334.25" font-size="3.6" text-anchor="end" stroke="#333" stroke-width="0.14" fill="#333" textLength="6.2" lengthAdjust="spacingAndGlyphs">-3.0</text>
<line x1="29.30" y1="335.36" x2="30.80" y2="335.36" stroke="#444" stroke-width="0.5"/>
<line x1="28.10" y1="337.77" x2="30.80" y2="337.77" stroke="#111" stroke-width="0.9"/>
<line x1="149.50" y1="337.77" x2="152.30" y2="337.77" stroke="#000" stroke-width="1.0"/>
<text x="25.30" y="339.07" font-size="3.6" text-anchor="end" stroke="#333" stroke-width="0.14" fill="#333" textLength="6.2" lengthAdjust="spacingAndGlyphs">-3.5</text>
<line x1="29.30" y1="340.19" x2="30.80" y2="340.19" stroke="#444" stroke-width="0.5"/>
<line x1="28.10" y1="342.60" x2="30.80" y2="342.60" stroke="#111" stroke-width="0.9"/>
<line x1="149.50" y1="342.60" x2="152.30" y2="342.60" stroke="#000" stroke-width="1.0"/>
<text x="25.30" y="343.90" font-size="3.6" text-anchor="end" stroke="#333" stroke-width="0.14" fill="#333" textLength="6.2" lengthAdjust="spacingAndGlyphs">-4.0</text>
<line x1="29.30" y1="345.01" x2="30.80" y2="345.01" stroke="#444" stroke-width="0.5"/>
<line x1="28.10" y1="347.43" x2="30.80" y2="347.43" stroke="#111" stroke-width="0.9"/>
<line x1="149.50" y1="347.43" x2="152.30" y2="347.43" stroke="#000" stroke-width="1.0"/>
<text x="25.30" y="348.73" font-size="3.6" text-anchor="end" stroke="#333" stroke-width="0.14" fill="#333" textLength="6.2" lengthAdjust="spacingAndGlyphs">-4.5</text>
<line x1="29.30" y1="349.84" x2="30.80" y2="349.84" stroke="#444" stroke-width="0.5"/>
<line x1="28.10" y1="352.25" x2="30.80" y2="352.25" stroke="#111" stroke-width="0.9"/>
<line x1="149.50" y1="352.25" x2="152.30" y2="352.25" stroke="#000" stroke-width="1.0"/>
<text x="25.30" y="353.55" font-size="3.6" text-anchor="end" stroke="#333" stroke-width="0.14" fill="#333" textLength="6.2" lengthAdjust="spacingAndGlyphs">-5.0</text>
<line x1="29.30" y1="354.66" x2="30.80" y2="354.66" stroke="#444" stroke-width="0.5"/>
<line x1="28.10" y1="357.07" x2="30.80" y2="357.07" stroke="#111" stroke-width="0.9"/>
<line x1="149.50" y1="357.07" x2="152.30" y2="357.07" stroke="#000" stroke-width="1.0"/>
<text x="25.30" y="358.38" font-size="3.6" text-anchor="end" stroke="#333" stroke-width="0.14" fill="#333" textLength="6.2" lengthAdjust="spacingAndGlyphs">-5.5</text>
<text x="13.20" y="315.80" font-size="5.3" text-anchor="middle" stroke="#222" stroke-width="0.14" fill="#222" textLength="55.7" lengthAdjust="spacingAndGlyphs" transform="rotate(-90 13.20 315.80)">Log<tspan font-size="3.6" dy="1.5">2</tspan><tspan dy="-1.5"> median-centered intensity</tspan></text>
<text x="45.20" y="284.60" font-size="3.2" text-anchor="start" stroke="#444" stroke-width="0.12" fill="#444" textLength="11" lengthAdjust="spacingAndGlyphs">p=0.001</text>
<text x="190.20" y="27.40" font-size="6.0" text-anchor="start" stroke="#333" stroke-width="0.16" fill="#333" textLength="104" lengthAdjust="spacingAndGlyphs"><tspan font-style="italic">SETBP1</tspan> expression (RNAseq) (TCGA)</text>
<line x1="199.30" y1="58.60" x2="199.30" y2="137.40" stroke="#111" stroke-width="1.3"/>
<line x1="198.70" y1="137.00" x2="285.50" y2="137.00" stroke="#111" stroke-width="1.3"/>
<line x1="196.50" y1="60.20" x2="199.30" y2="60.20" stroke="#111" stroke-width="0.9"/>
<text x="192.80" y="61.50" font-size="3.8" text-anchor="end" stroke="#333" stroke-width="0.12" fill="#333">6</text>
<line x1="196.50" y1="111.40" x2="199.30" y2="111.40" stroke="#111" stroke-width="0.9"/>
<text x="192.80" y="112.70" font-size="3.8" text-anchor="end" stroke="#333" stroke-width="0.12" fill="#333">4</text>
<text x="183.50" y="97.60" font-size="6.2" text-anchor="middle" stroke="#222" stroke-width="0.16" fill="#222" textLength="23" lengthAdjust="spacingAndGlyphs" transform="rotate(-90 183.50 97.60)">Log<tspan font-size="4.2" dy="2.1">10</tspan><tspan dy="-2.1"> FPKM</tspan></text>
<rect x="203.25" y="85.20" width="9.50" height="51.80" fill="none" stroke="#c0304a" stroke-width="1.0"/>
<rect x="217.05" y="108.30" width="9.50" height="28.70" fill="none" stroke="#3d5c9a" stroke-width="1.0"/>
<rect x="230.65" y="109.00" width="9.50" height="28.00" fill="none" stroke="#42619e" stroke-width="1.0"/>
<rect x="244.25" y="114.60" width="9.50" height="22.40" fill="none" stroke="#4a68a3" stroke-width="1.0"/>
<rect x="258.05" y="103.00" width="9.50" height="34.00" fill="none" stroke="#6b82b8" stroke-width="1.0"/>
<rect x="271.65" y="115.10" width="9.50" height="21.90" fill="none" stroke="#8093c2" stroke-width="1.0"/>
<circle cx="208.57" cy="61.40" r="0.85" fill="#b8243f"/>
<circle cx="205.55" cy="65.50" r="0.85" fill="#b8243f"/>
<circle cx="204.84" cy="67.50" r="0.85" fill="#b8243f"/>
<circle cx="204.72" cy="68.50" r="0.85" fill="#b8243f"/>
<circle cx="210.79" cy="70.50" r="0.85" fill="#b8243f"/>
<circle cx="209.37" cy="72.50" r="0.85" fill="#b8243f"/>
<circle cx="211.15" cy="75.00" r="0.85" fill="#b8243f"/>
<circle cx="204.74" cy="77.50" r="0.85" fill="#b8243f"/>
<circle cx="208.93" cy="80.00" r="0.85" fill="#b8243f"/>
<circle cx="207.88" cy="83.00" r="0.85" fill="#b8243f"/>
<circle cx="209.57" cy="86.00" r="0.85" fill="#b8243f"/>
<circle cx="206.77" cy="90.60" r="0.85" fill="#b8243f"/>
<circle cx="211.40" cy="93.50" r="0.85" fill="#b8243f"/>
<circle cx="205.11" cy="96.80" r="0.85" fill="#b8243f"/>
<circle cx="208.31" cy="113.50" r="0.85" fill="#b8243f"/>
<circle cx="209.61" cy="114.40" r="0.85" fill="#b8243f"/>
<circle cx="210.72" cy="117.20" r="0.85" fill="#b8243f"/>
<line x1="208.00" y1="66.80" x2="208.00" y2="103.00" stroke="#b8243f" stroke-width="0.9"/>
<line x1="205.70" y1="66.80" x2="210.30" y2="66.80" stroke="#b8243f" stroke-width="0.9"/>
<line x1="205.70" y1="103.00" x2="210.30" y2="103.00" stroke="#b8243f" stroke-width="0.9"/>
<line x1="208.00" y1="137.00" x2="208.00" y2="139.30" stroke="#111" stroke-width="0.8"/>
<text x="208.00" y="147.40" font-size="4.3" text-anchor="middle" stroke="#444" stroke-width="0.04" fill="#444">M0</text>
<circle cx="223.41" cy="66.60" r="0.85" fill="#1f3f80"/>
<circle cx="223.19" cy="68.30" r="0.85" fill="#1f3f80"/>
<circle cx="223.79" cy="82.40" r="0.85" fill="#1f3f80"/>
<circle cx="224.62" cy="82.70" r="0.85" fill="#1f3f80"/>
<circle cx="220.79" cy="88.00" r="0.85" fill="#1f3f80"/>
<circle cx="223.06" cy="90.00" r="0.85" fill="#1f3f80"/>
<circle cx="224.53" cy="110.55" r="0.85" fill="#1f3f80"/>
<circle cx="224.32" cy="112.70" r="0.85" fill="#1f3f80"/>
<circle cx="221.24" cy="123.41" r="0.85" fill="#1f3f80"/>
<circle cx="223.78" cy="110.82" r="0.85" fill="#1f3f80"/>
<circle cx="224.27" cy="111.65" r="0.85" fill="#1f3f80"/>
<circle cx="222.30" cy="113.29" r="0.85" fill="#1f3f80"/>
<circle cx="222.65" cy="103.85" r="0.85" fill="#1f3f80"/>
<circle cx="221.00" cy="111.73" r="0.85" fill="#1f3f80"/>
<circle cx="222.36" cy="114.22" r="0.85" fill="#1f3f80"/>
<circle cx="222.54" cy="118.45" r="0.85" fill="#1f3f80"/>
<circle cx="218.95" cy="100.46" r="0.85" fill="#1f3f80"/>
<circle cx="222.75" cy="107.19" r="0.85" fill="#1f3f80"/>
<circle cx="225.15" cy="100.30" r="0.85" fill="#1f3f80"/>
<circle cx="224.38" cy="118.97" r="0.85" fill="#1f3f80"/>
<circle cx="223.35" cy="115.73" r="0.85" fill="#1f3f80"/>
<circle cx="221.04" cy="97.64" r="0.85" fill="#1f3f80"/>
<circle cx="223.40" cy="127.32" r="0.85" fill="#1f3f80"/>
<circle cx="222.35" cy="125.82" r="0.85" fill="#1f3f80"/>
<circle cx="221.40" cy="114.78" r="0.85" fill="#1f3f80"/>
<circle cx="224.10" cy="113.90" r="0.85" fill="#1f3f80"/>
<circle cx="218.97" cy="102.94" r="0.85" fill="#1f3f80"/>
<circle cx="223.50" cy="95.38" r="0.85" fill="#1f3f80"/>
<circle cx="218.60" cy="112.06" r="0.85" fill="#1f3f80"/>
<circle cx="222.49" cy="98.73" r="0.85" fill="#1f3f80"/>
<circle cx="221.67" cy="104.03" r="0.85" fill="#1f3f80"/>
<circle cx="219.97" cy="105.56" r="0.85" fill="#1f3f80"/>
<circle cx="223.15" cy="96.78" r="0.85" fill="#1f3f80"/>
<circle cx="221.78" cy="110.78" r="0.85" fill="#1f3f80"/>
<circle cx="222.58" cy="110.30" r="0.85" fill="#1f3f80"/>
<circle cx="224.66" cy="120.05" r="0.85" fill="#1f3f80"/>
<circle cx="220.14" cy="111.88" r="0.85" fill="#1f3f80"/>
<circle cx="218.48" cy="114.46" r="0.85" fill="#1f3f80"/>
<circle cx="220.45" cy="111.50" r="0.85" fill="#1f3f80"/>
<circle cx="223.01" cy="114.98" r="0.85" fill="#1f3f80"/>
<circle cx="219.78" cy="110.65" r="0.85" fill="#1f3f80"/>
<circle cx="219.55" cy="106.54" r="0.85" fill="#1f3f80"/>
<circle cx="224.56" cy="129.66" r="0.85" fill="#1f3f80"/>
<circle cx="222.89" cy="129.19" r="0.85" fill="#1f3f80"/>
<line x1="221.80" y1="92.60" x2="221.80" y2="124.50" stroke="#1f3f80" stroke-width="0.9"/>
<line x1="219.50" y1="92.60" x2="224.10" y2="92.60" stroke="#1f3f80" stroke-width="0.9"/>
<line x1="219.50" y1="124.50" x2="224.10" y2="124.50" stroke="#1f3f80" stroke-width="0.9"/>
<line x1="221.80" y1="137.00" x2="221.80" y2="139.30" stroke="#111" stroke-width="0.8"/>
<text x="221.80" y="147.40" font-size="4.3" text-anchor="middle" stroke="#444" stroke-width="0.04" fill="#444">M1</text>
<circle cx="235.01" cy="69.80" r="0.85" fill="#26427f"/>
<circle cx="238.06" cy="82.90" r="0.85" fill="#26427f"/>
<circle cx="234.22" cy="88.10" r="0.85" fill="#26427f"/>
<circle cx="236.53" cy="91.10" r="0.85" fill="#26427f"/>
<circle cx="233.35" cy="91.80" r="0.85" fill="#26427f"/>
<circle cx="234.93" cy="122.41" r="0.85" fill="#26427f"/>
<circle cx="237.48" cy="118.33" r="0.85" fill="#26427f"/>
<circle cx="238.22" cy="109.28" r="0.85" fill="#26427f"/>
<circle cx="237.99" cy="106.89" r="0.85" fill="#26427f"/>
<circle cx="234.61" cy="108.59" r="0.85" fill="#26427f"/>
<circle cx="235.97" cy="100.68" r="0.85" fill="#26427f"/>
<circle cx="234.15" cy="119.98" r="0.85" fill="#26427f"/>
<circle cx="232.93" cy="111.34" r="0.85" fill="#26427f"/>
<circle cx="235.38" cy="122.64" r="0.85" fill="#26427f"/>
<circle cx="237.69" cy="111.02" r="0.85" fill="#26427f"/>
<circle cx="237.77" cy="128.06" r="0.85" fill="#26427f"/>
<circle cx="236.84" cy="122.67" r="0.85" fill="#26427f"/>
<circle cx="238.46" cy="93.68" r="0.85" fill="#26427f"/>
<circle cx="233.88" cy="106.28" r="0.85" fill="#26427f"/>
<circle cx="233.15" cy="125.32" r="0.85" fill="#26427f"/>
<circle cx="235.06" cy="112.88" r="0.85" fill="#26427f"/>
<circle cx="233.87" cy="129.94" r="0.85" fill="#26427f"/>
<circle cx="233.46" cy="111.28" r="0.85" fill="#26427f"/>
<circle cx="234.82" cy="100.84" r="0.85" fill="#26427f"/>
<circle cx="236.25" cy="116.35" r="0.85" fill="#26427f"/>
<circle cx="235.36" cy="120.36" r="0.85" fill="#26427f"/>
<circle cx="234.14" cy="108.06" r="0.85" fill="#26427f"/>
<circle cx="237.71" cy="101.56" r="0.85" fill="#26427f"/>
<circle cx="238.68" cy="109.72" r="0.85" fill="#26427f"/>
<circle cx="235.08" cy="128.51" r="0.85" fill="#26427f"/>
<circle cx="232.51" cy="119.74" r="0.85" fill="#26427f"/>
<circle cx="232.21" cy="102.96" r="0.85" fill="#26427f"/>
<circle cx="237.94" cy="107.39" r="0.85" fill="#26427f"/>
<circle cx="232.28" cy="102.22" r="0.85" fill="#26427f"/>
<circle cx="236.82" cy="100.10" r="0.85" fill="#26427f"/>
<circle cx="235.88" cy="120.94" r="0.85" fill="#26427f"/>
<circle cx="234.10" cy="105.22" r="0.85" fill="#26427f"/>
<circle cx="237.38" cy="114.75" r="0.85" fill="#26427f"/>
<circle cx="232.13" cy="112.39" r="0.85" fill="#26427f"/>
<circle cx="232.92" cy="105.66" r="0.85" fill="#26427f"/>
<circle cx="235.09" cy="118.99" r="0.85" fill="#26427f"/>
<circle cx="232.17" cy="103.49" r="0.85" fill="#26427f"/>
<circle cx="237.64" cy="116.70" r="0.85" fill="#26427f"/>
<circle cx="233.61" cy="102.90" r="0.85" fill="#26427f"/>
<line x1="235.40" y1="95.40" x2="235.40" y2="122.70" stroke="#26427f" stroke-width="0.9"/>
<line x1="233.10" y1="95.40" x2="237.70" y2="95.40" stroke="#26427f" stroke-width="0.9"/>
<line x1="233.10" y1="122.70" x2="237.70" y2="122.70" stroke="#26427f" stroke-width="0.9"/>
<line x1="235.40" y1="137.00" x2="235.40" y2="139.30" stroke="#111" stroke-width="0.8"/>
<text x="235.40" y="147.40" font-size="4.3" text-anchor="middle" stroke="#444" stroke-width="0.04" fill="#444">M2</text>
<circle cx="246.56" cy="115.68" r="0.85" fill="#3d5a98"/>
<circle cx="245.92" cy="111.44" r="0.85" fill="#3d5a98"/>
<circle cx="249.88" cy="112.75" r="0.85" fill="#3d5a98"/>
<circle cx="248.64" cy="129.14" r="0.85" fill="#3d5a98"/>
<circle cx="249.88" cy="122.97" r="0.85" fill="#3d5a98"/>
<circle cx="250.05" cy="113.48" r="0.85" fill="#3d5a98"/>
<circle cx="251.09" cy="125.32" r="0.85" fill="#3d5a98"/>
<circle cx="252.12" cy="111.39" r="0.85" fill="#3d5a98"/>
<circle cx="250.25" cy="115.21" r="0.85" fill="#3d5a98"/>
<circle cx="246.96" cy="124.37" r="0.85" fill="#3d5a98"/>
<circle cx="248.83" cy="119.46" r="0.85" fill="#3d5a98"/>
<circle cx="246.82" cy="108.17" r="0.85" fill="#3d5a98"/>
<circle cx="245.67" cy="130.66" r="0.85" fill="#3d5a98"/>
<circle cx="248.81" cy="111.45" r="0.85" fill="#3d5a98"/>
<circle cx="250.46" cy="112.50" r="0.85" fill="#3d5a98"/>
<circle cx="246.82" cy="122.21" r="0.85" fill="#3d5a98"/>
<circle cx="247.45" cy="113.98" r="0.85" fill="#3d5a98"/>
<circle cx="247.95" cy="113.32" r="0.85" fill="#3d5a98"/>
<circle cx="250.34" cy="107.13" r="0.85" fill="#3d5a98"/>
<circle cx="249.14" cy="107.79" r="0.85" fill="#3d5a98"/>
<line x1="249.00" y1="106.00" x2="249.00" y2="122.60" stroke="#3d5a98" stroke-width="0.9"/>
<line x1="246.70" y1="106.00" x2="251.30" y2="106.00" stroke="#3d5a98" stroke-width="0.9"/>
<line x1="246.70" y1="122.60" x2="251.30" y2="122.60" stroke="#3d5a98" stroke-width="0.9"/>
<line x1="249.00" y1="137.00" x2="249.00" y2="139.30" stroke="#111" stroke-width="0.8"/>
<text x="249.00" y="147.40" font-size="4.3" text-anchor="middle" stroke="#444" stroke-width="0.04" fill="#444">M3</text>
<circle cx="263.58" cy="72.50" r="0.85" fill="#7587bf"/>
<circle cx="264.54" cy="74.50" r="0.85" fill="#7587bf"/>
<circle cx="262.08" cy="78.60" r="0.85" fill="#7587bf"/>
<circle cx="264.79" cy="80.50" r="0.85" fill="#7587bf"/>
<circle cx="265.56" cy="106.82" r="0.85" fill="#7587bf"/>
<circle cx="259.99" cy="98.64" r="0.85" fill="#7587bf"/>
<circle cx="265.74" cy="107.25" r="0.85" fill="#7587bf"/>
<circle cx="264.31" cy="102.11" r="0.85" fill="#7587bf"/>
<circle cx="260.28" cy="103.99" r="0.85" fill="#7587bf"/>
<circle cx="262.48" cy="120.00" r="0.85" fill="#7587bf"/>
<circle cx="263.65" cy="104.66" r="0.85" fill="#7587bf"/>
<circle cx="265.59" cy="106.63" r="0.85" fill="#7587bf"/>
<circle cx="261.96" cy="115.15" r="0.85" fill="#7587bf"/>
<circle cx="263.27" cy="96.70" r="0.85" fill="#7587bf"/>
<circle cx="265.38" cy="95.66" r="0.85" fill="#7587bf"/>
<circle cx="264.82" cy="117.01" r="0.85" fill="#7587bf"/>
<circle cx="265.82" cy="113.32" r="0.85" fill="#7587bf"/>
<circle cx="262.55" cy="98.83" r="0.85" fill="#7587bf"/>
<circle cx="263.83" cy="96.94" r="0.85" fill="#7587bf"/>
<circle cx="260.79" cy="110.84" r="0.85" fill="#7587bf"/>
<circle cx="264.31" cy="118.75" r="0.85" fill="#7587bf"/>
<circle cx="264.96" cy="97.17" r="0.85" fill="#7587bf"/>
<circle cx="263.76" cy="119.37" r="0.85" fill="#7587bf"/>
<circle cx="264.28" cy="115.81" r="0.85" fill="#7587bf"/>
<circle cx="260.85" cy="107.30" r="0.85" fill="#7587bf"/>
<circle cx="265.52" cy="103.28" r="0.85" fill="#7587bf"/>
<circle cx="266.07" cy="93.57" r="0.85" fill="#7587bf"/>
<circle cx="266.05" cy="89.84" r="0.85" fill="#7587bf"/>
<circle cx="263.05" cy="120.26" r="0.85" fill="#7587bf"/>
<circle cx="264.78" cy="98.50" r="0.85" fill="#7587bf"/>
<circle cx="261.58" cy="109.86" r="0.85" fill="#7587bf"/>
<circle cx="265.59" cy="99.06" r="0.85" fill="#7587bf"/>
<circle cx="265.22" cy="113.53" r="0.85" fill="#7587bf"/>
<circle cx="261.77" cy="107.13" r="0.85" fill="#7587bf"/>
<circle cx="259.96" cy="100.09" r="0.85" fill="#7587bf"/>
<circle cx="262.40" cy="96.44" r="0.85" fill="#7587bf"/>
<circle cx="263.14" cy="110.29" r="0.85" fill="#7587bf"/>
<circle cx="264.62" cy="91.79" r="0.85" fill="#7587bf"/>
<circle cx="262.71" cy="98.19" r="0.85" fill="#7587bf"/>
<circle cx="259.59" cy="106.29" r="0.85" fill="#7587bf"/>
<line x1="262.80" y1="88.90" x2="262.80" y2="117.20" stroke="#7587bf" stroke-width="0.9"/>
<line x1="260.50" y1="88.90" x2="265.10" y2="88.90" stroke="#7587bf" stroke-width="0.9"/>
<line x1="260.50" y1="117.20" x2="265.10" y2="117.20" stroke="#7587bf" stroke-width="0.9"/>
<line x1="262.80" y1="137.00" x2="262.80" y2="139.30" stroke="#111" stroke-width="0.8"/>
<text x="262.80" y="147.40" font-size="4.3" text-anchor="middle" stroke="#444" stroke-width="0.04" fill="#444">M4</text>
<circle cx="278.50" cy="86.90" r="0.85" fill="#a3aed4"/>
<circle cx="273.44" cy="95.00" r="0.85" fill="#a3aed4"/>
<circle cx="278.44" cy="119.12" r="0.85" fill="#a3aed4"/>
<circle cx="274.18" cy="114.26" r="0.85" fill="#a3aed4"/>
<circle cx="275.28" cy="108.86" r="0.85" fill="#a3aed4"/>
<circle cx="278.36" cy="121.11" r="0.85" fill="#a3aed4"/>
<circle cx="273.96" cy="107.26" r="0.85" fill="#a3aed4"/>
<circle cx="274.01" cy="100.64" r="0.85" fill="#a3aed4"/>
<circle cx="276.51" cy="108.64" r="0.85" fill="#a3aed4"/>
<circle cx="277.92" cy="111.69" r="0.85" fill="#a3aed4"/>
<circle cx="278.71" cy="103.04" r="0.85" fill="#a3aed4"/>
<circle cx="277.69" cy="106.61" r="0.85" fill="#a3aed4"/>
<circle cx="279.43" cy="110.45" r="0.85" fill="#a3aed4"/>
<circle cx="276.35" cy="113.59" r="0.85" fill="#a3aed4"/>
<circle cx="279.45" cy="105.44" r="0.85" fill="#a3aed4"/>
<circle cx="273.58" cy="110.34" r="0.85" fill="#a3aed4"/>
<circle cx="274.51" cy="120.23" r="0.85" fill="#a3aed4"/>
<circle cx="276.58" cy="124.14" r="0.85" fill="#a3aed4"/>
<circle cx="274.97" cy="114.99" r="0.85" fill="#a3aed4"/>
<circle cx="277.96" cy="115.61" r="0.85" fill="#a3aed4"/>
<line x1="276.40" y1="104.00" x2="276.40" y2="125.30" stroke="#a3aed4" stroke-width="0.9"/>
<line x1="274.10" y1="104.00" x2="278.70" y2="104.00" stroke="#a3aed4" stroke-width="0.9"/>
<line x1="274.10" y1="125.30" x2="278.70" y2="125.30" stroke="#a3aed4" stroke-width="0.9"/>
<line x1="276.40" y1="137.00" x2="276.40" y2="139.30" stroke="#111" stroke-width="0.8"/>
<text x="276.40" y="147.40" font-size="4.3" text-anchor="middle" stroke="#444" stroke-width="0.04" fill="#444">M5</text>
<line x1="204.30" y1="35.30" x2="204.30" y2="37.30" stroke="#222" stroke-width="0.9"/>
<line x1="204.30" y1="36.30" x2="207.20" y2="36.30" stroke="#222" stroke-width="0.9"/>
<line x1="210.20" y1="36.10" x2="215.60" y2="36.10" stroke="#555" stroke-width="0.8" stroke-dasharray="1.1 0.35"/>
<line x1="218.60" y1="36.30" x2="220.00" y2="36.30" stroke="#333" stroke-width="0.8"/>
<line x1="220.00" y1="35.30" x2="220.00" y2="37.30" stroke="#222" stroke-width="0.9"/>
<line x1="204.30" y1="39.90" x2="204.30" y2="41.90" stroke="#222" stroke-width="0.9"/>
<line x1="204.30" y1="40.90" x2="207.20" y2="40.90" stroke="#222" stroke-width="0.9"/>
<line x1="210.20" y1="40.70" x2="215.60" y2="40.70" stroke="#555" stroke-width="0.8" stroke-dasharray="1.1 0.35"/>
<line x1="218.60" y1="40.90" x2="233.50" y2="40.90" stroke="#888" stroke-width="1.4"/>
<line x1="233.50" y1="39.90" x2="233.50" y2="41.90" stroke="#222" stroke-width="0.9"/>
<line x1="204.30" y1="44.80" x2="204.30" y2="46.80" stroke="#222" stroke-width="0.9"/>
<line x1="204.30" y1="45.80" x2="207.20" y2="45.80" stroke="#222" stroke-width="0.9"/>
<line x1="210.20" y1="45.60" x2="215.60" y2="45.60" stroke="#555" stroke-width="0.8" stroke-dasharray="1.1 0.35"/>
<line x1="218.60" y1="45.80" x2="247.00" y2="45.80" stroke="#888" stroke-width="1.4"/>
<line x1="247.00" y1="44.80" x2="247.00" y2="46.80" stroke="#222" stroke-width="0.9"/>
<line x1="204.30" y1="49.50" x2="204.30" y2="51.50" stroke="#222" stroke-width="0.9"/>
<line x1="204.30" y1="50.50" x2="207.20" y2="50.50" stroke="#222" stroke-width="0.9"/>
<line x1="210.20" y1="50.30" x2="215.60" y2="50.30" stroke="#555" stroke-width="0.8" stroke-dasharray="1.1 0.35"/>
<line x1="218.60" y1="50.50" x2="261.50" y2="50.50" stroke="#333" stroke-width="0.8"/>
<line x1="261.50" y1="49.50" x2="261.50" y2="51.50" stroke="#222" stroke-width="0.9"/>
<line x1="204.30" y1="54.10" x2="204.30" y2="56.10" stroke="#222" stroke-width="0.9"/>
<line x1="204.30" y1="55.10" x2="207.20" y2="55.10" stroke="#222" stroke-width="0.9"/>
<line x1="210.20" y1="54.90" x2="215.60" y2="54.90" stroke="#555" stroke-width="0.8" stroke-dasharray="1.1 0.35"/>
<line x1="218.60" y1="55.10" x2="274.60" y2="55.10" stroke="#888" stroke-width="1.4"/>
<line x1="274.60" y1="54.10" x2="274.60" y2="56.10" stroke="#222" stroke-width="0.9"/>
<text x="297.00" y="35.80" font-size="3.9" text-anchor="start" stroke="#555" stroke-width="0.03" fill="#555" textLength="24.7" lengthAdjust="spacingAndGlyphs">FAB subclass</text>
<circle cx="298.40" cy="41.20" r="0.85" fill="#b8243f"/>
<text x="302.00" y="42.75" font-size="4.3" text-anchor="start" stroke="#555" stroke-width="0.03" fill="#555">M0</text>
<circle cx="298.40" cy="47.55" r="0.85" fill="#1f3f80"/>
<text x="302.00" y="49.10" font-size="4.3" text-anchor="start" stroke="#555" stroke-width="0.03" fill="#555">M1</text>
<circle cx="298.40" cy="53.90" r="0.85" fill="#26427f"/>
<text x="302.00" y="55.45" font-size="4.3" text-anchor="start" stroke="#555" stroke-width="0.03" fill="#555">M2</text>
<circle cx="298.40" cy="60.25" r="0.85" fill="#3d5a98"/>
<text x="302.00" y="61.80" font-size="4.3" text-anchor="start" stroke="#555" stroke-width="0.03" fill="#555">M3</text>
<circle cx="298.40" cy="66.60" r="0.85" fill="#7587bf"/>
<text x="302.00" y="68.15" font-size="4.3" text-anchor="start" stroke="#555" stroke-width="0.03" fill="#555">M4</text>
<circle cx="298.40" cy="72.95" r="0.85" fill="#a3aed4"/>
<text x="302.00" y="74.50" font-size="4.3" text-anchor="start" stroke="#555" stroke-width="0.03" fill="#555">M5</text>
<text x="188.50" y="177.40" font-size="6.1" text-anchor="start" stroke="#222" stroke-width="0.16" fill="#222" textLength="160.7" lengthAdjust="spacingAndGlyphs"><tspan font-style="italic">SETBP1</tspan> and <tspan font-style="italic">HOXA9</tspan> expression in FAB subclasses (TCGA)</text>
<line x1="188.60" y1="188.80" x2="188.60" y2="366.30" stroke="#111" stroke-width="1.3"/>
<line x1="188.00" y1="365.80" x2="346.50" y2="365.80" stroke="#111" stroke-width="1.3"/>
<line x1="186.00" y1="365.70" x2="188.60" y2="365.70" stroke="#111" stroke-width="0.8"/>
<text x="181.80" y="367.00" font-size="3.6" text-anchor="end" stroke="#444" stroke-width="0.12" fill="#444">3</text>
<line x1="186.00" y1="307.20" x2="188.60" y2="307.20" stroke="#111" stroke-width="0.8"/>
<text x="181.80" y="308.50" font-size="3.6" text-anchor="end" stroke="#444" stroke-width="0.12" fill="#444">4</text>
<line x1="186.00" y1="248.70" x2="188.60" y2="248.70" stroke="#111" stroke-width="0.8"/>
<text x="181.80" y="250.00" font-size="3.6" text-anchor="end" stroke="#444" stroke-width="0.12" fill="#444">5</text>
<line x1="186.00" y1="190.20" x2="188.60" y2="190.20" stroke="#111" stroke-width="0.8"/>
<text x="181.80" y="191.50" font-size="3.6" text-anchor="end" stroke="#444" stroke-width="0.12" fill="#444">6</text>
<line x1="187.70" y1="365.80" x2="187.70" y2="368.30" stroke="#111" stroke-width="0.8"/>
<text x="187.70" y="375.00" font-size="3.6" text-anchor="middle" stroke="#444" stroke-width="0.12" fill="#444">-2</text>
<line x1="219.30" y1="365.80" x2="219.30" y2="368.30" stroke="#111" stroke-width="0.8"/>
<text x="219.30" y="375.00" font-size="3.6" text-anchor="middle" stroke="#444" stroke-width="0.12" fill="#444">0</text>
<line x1="250.90" y1="365.80" x2="250.90" y2="368.30" stroke="#111" stroke-width="0.8"/>
<text x="250.90" y="375.00" font-size="3.6" text-anchor="middle" stroke="#444" stroke-width="0.12" fill="#444">2</text>
<line x1="282.50" y1="365.80" x2="282.50" y2="368.30" stroke="#111" stroke-width="0.8"/>
<text x="282.50" y="375.00" font-size="3.6" text-anchor="middle" stroke="#444" stroke-width="0.12" fill="#444">4</text>
<line x1="314.10" y1="365.80" x2="314.10" y2="368.30" stroke="#111" stroke-width="0.8"/>
<text x="314.10" y="375.00" font-size="3.6" text-anchor="middle" stroke="#444" stroke-width="0.12" fill="#444">6</text>
<line x1="345.70" y1="365.80" x2="345.70" y2="368.30" stroke="#111" stroke-width="0.8"/>
<text x="345.70" y="375.00" font-size="3.6" text-anchor="middle" stroke="#444" stroke-width="0.12" fill="#444">8</text>
<text x="267.50" y="384.60" font-size="5.6" text-anchor="middle" stroke="#1a1a1a" stroke-width="0.16" fill="#1a1a1a" textLength="61.3" lengthAdjust="spacingAndGlyphs"><tspan font-style="italic">HOXA9</tspan> expression (log<tspan font-size="3.6" dy="1.4">10</tspan><tspan dy="-1.4"> FPKM)</tspan></text>
<text x="175.00" y="274.80" font-size="5.4" text-anchor="middle" stroke="#1a1a1a" stroke-width="0.16" fill="#1a1a1a" textLength="58" lengthAdjust="spacingAndGlyphs" transform="rotate(-90 175.00 274.80)"><tspan font-style="italic">SETBP1</tspan> expression (log<tspan font-size="3.6" dy="1.4">10</tspan><tspan dy="-1.4"> FPKM)</tspan></text>
<line x1="188.60" y1="249.10" x2="349.50" y2="249.10" stroke="#c23a5c" stroke-width="1.4" stroke-dasharray="3.1 2.0" stroke-dashoffset="2.5"/>
<line x1="282.90" y1="186.30" x2="282.90" y2="365.00" stroke="#c23a5c" stroke-width="1.4" stroke-dasharray="3.0 2.05" stroke-dashoffset="3.1"/>
<text x="194.60" y="233.10" font-size="4.0" text-anchor="middle" stroke="#b8233f" stroke-width="0.12" fill="#b8233f" textLength="24.4" lengthAdjust="spacingAndGlyphs" transform="rotate(-90 194.60 233.10)"><tspan font-style="italic">SETBP1</tspan> high</text>
<line x1="193.00" y1="213.50" x2="193.00" y2="219.80" stroke="#b8233f" stroke-width="0.7"/>
<path d="M191.8 214.4 L193.0 212.2 L194.2 214.4 Z" fill="#b8233f"/>
<text x="284.40" y="363.60" font-size="3.6" text-anchor="start" stroke="#b8233f" stroke-width="0.12" fill="#b8233f" textLength="21.2" lengthAdjust="spacingAndGlyphs"><tspan font-style="italic">HOXA9</tspan>high</text>
<line x1="307.30" y1="362.30" x2="313.50" y2="362.30" stroke="#b8233f" stroke-width="0.7"/>
<path d="M312.8 361.2 L315.0 362.3 L312.8 363.4 Z" fill="#b8233f"/>
<circle cx="267.30" cy="272.90" r="1.6" fill="#adb5d6" stroke="#8f9ac6" stroke-width="0.6"/>
<circle cx="263.50" cy="280.90" r="1.6" fill="#adb5d6" stroke="#8f9ac6" stroke-width="0.6"/>
<circle cx="258.20" cy="285.50" r="1.6" fill="#adb5d6" stroke="#8f9ac6" stroke-width="0.6"/>
<circle cx="261.50" cy="294.00" r="1.6" fill="#adb5d6" stroke="#8f9ac6" stroke-width="0.6"/>
<circle cx="257.00" cy="316.40" r="1.6" fill="#adb5d6" stroke="#8f9ac6" stroke-width="0.6"/>
<circle cx="264.20" cy="317.30" r="1.6" fill="#adb5d6" stroke="#8f9ac6" stroke-width="0.6"/>
<circle cx="273.60" cy="316.80" r="1.6" fill="#adb5d6" stroke="#8f9ac6" stroke-width="0.6"/>
<circle cx="301.40" cy="251.90" r="1.6" fill="#adb5d6" stroke="#8f9ac6" stroke-width="0.6"/>
<circle cx="313.80" cy="281.40" r="1.6" fill="#adb5d6" stroke="#8f9ac6" stroke-width="0.6"/>
<circle cx="298.30" cy="285.40" r="1.6" fill="#adb5d6" stroke="#8f9ac6" stroke-width="0.6"/>
<circle cx="307.70" cy="291.30" r="1.6" fill="#adb5d6" stroke="#8f9ac6" stroke-width="0.6"/>
<circle cx="305.80" cy="297.60" r="1.6" fill="#adb5d6" stroke="#8f9ac6" stroke-width="0.6"/>
<circle cx="318.50" cy="302.40" r="1.6" fill="#adb5d6" stroke="#8f9ac6" stroke-width="0.6"/>
<circle cx="313.00" cy="304.60" r="1.6" fill="#adb5d6" stroke="#8f9ac6" stroke-width="0.6"/>
<circle cx="318.10" cy="310.90" r="1.6" fill="#adb5d6" stroke="#8f9ac6" stroke-width="0.6"/>
<circle cx="313.40" cy="327.30" r="1.6" fill="#adb5d6" stroke="#8f9ac6" stroke-width="0.6"/>
<circle cx="308.70" cy="325.70" r="1.6" fill="#adb5d6" stroke="#8f9ac6" stroke-width="0.6"/>
<circle cx="318.80" cy="332.00" r="1.6" fill="#adb5d6" stroke="#8f9ac6" stroke-width="0.6"/>
<circle cx="309.00" cy="336.10" r="1.6" fill="#adb5d6" stroke="#8f9ac6" stroke-width="0.6"/>
<circle cx="311.50" cy="335.40" r="1.6" fill="#adb5d6" stroke="#8f9ac6" stroke-width="0.6"/>
<circle cx="323.50" cy="337.60" r="1.6" fill="#adb5d6" stroke="#8f9ac6" stroke-width="0.6"/>
<circle cx="303.50" cy="218.80" r="1.6" fill="#adb5d6" stroke="#8f9ac6" stroke-width="0.6"/>
<circle cx="308.50" cy="222.60" r="1.6" fill="#adb5d6" stroke="#8f9ac6" stroke-width="0.6"/>
<circle cx="311.20" cy="231.70" r="1.6" fill="#adb5d6" stroke="#8f9ac6" stroke-width="0.6"/>
<circle cx="219.60" cy="288.20" r="1.6" fill="#6a7eb0" stroke="#4b609c" stroke-width="0.6"/>
<circle cx="219.60" cy="309.80" r="1.6" fill="#6a7eb0" stroke="#4b609c" stroke-width="0.6"/>
<circle cx="219.60" cy="338.70" r="1.6" fill="#6a7eb0" stroke="#4b609c" stroke-width="0.6"/>
<circle cx="219.60" cy="340.70" r="1.6" fill="#6a7eb0" stroke="#4b609c" stroke-width="0.6"/>
<circle cx="219.60" cy="355.30" r="1.6" fill="#6a7eb0" stroke="#4b609c" stroke-width="0.6"/>
<circle cx="280.60" cy="277.00" r="1.6" fill="#6a7eb0" stroke="#4b609c" stroke-width="0.6"/>
<circle cx="268.50" cy="283.20" r="1.6" fill="#6a7eb0" stroke="#4b609c" stroke-width="0.6"/>
<circle cx="274.80" cy="285.00" r="1.6" fill="#6a7eb0" stroke="#4b609c" stroke-width="0.6"/>
<circle cx="257.90" cy="297.10" r="1.6" fill="#6a7eb0" stroke="#4b609c" stroke-width="0.6"/>
<circle cx="278.20" cy="295.60" r="1.6" fill="#6a7eb0" stroke="#4b609c" stroke-width="0.6"/>
<circle cx="258.50" cy="301.00" r="1.6" fill="#6a7eb0" stroke="#4b609c" stroke-width="0.6"/>
<circle cx="283.60" cy="302.10" r="1.6" fill="#6a7eb0" stroke="#4b609c" stroke-width="0.6"/>
<circle cx="274.50" cy="304.40" r="1.6" fill="#6a7eb0" stroke="#4b609c" stroke-width="0.6"/>
<circle cx="276.40" cy="319.80" r="1.6" fill="#6a7eb0" stroke="#4b609c" stroke-width="0.6"/>
<circle cx="283.60" cy="320.60" r="1.6" fill="#6a7eb0" stroke="#4b609c" stroke-width="0.6"/>
<circle cx="268.50" cy="329.70" r="1.6" fill="#6a7eb0" stroke="#4b609c" stroke-width="0.6"/>
<circle cx="303.30" cy="255.70" r="1.6" fill="#6a7eb0" stroke="#4b609c" stroke-width="0.6"/>
<circle cx="296.10" cy="257.90" r="1.6" fill="#6a7eb0" stroke="#4b609c" stroke-width="0.6"/>
<circle cx="308.00" cy="262.40" r="1.6" fill="#6a7eb0" stroke="#4b609c" stroke-width="0.6"/>
<circle cx="309.60" cy="261.80" r="1.6" fill="#6a7eb0" stroke="#4b609c" stroke-width="0.6"/>
<circle cx="309.60" cy="268.70" r="1.6" fill="#6a7eb0" stroke="#4b609c" stroke-width="0.6"/>
<circle cx="291.10" cy="272.10" r="1.6" fill="#6a7eb0" stroke="#4b609c" stroke-width="0.6"/>
<circle cx="311.30" cy="301.40" r="1.6" fill="#6a7eb0" stroke="#4b609c" stroke-width="0.6"/>
<circle cx="315.30" cy="303.30" r="1.6" fill="#6a7eb0" stroke="#4b609c" stroke-width="0.6"/>
<circle cx="307.10" cy="307.70" r="1.6" fill="#6a7eb0" stroke="#4b609c" stroke-width="0.6"/>
<circle cx="298.90" cy="208.50" r="1.6" fill="#6a7eb0" stroke="#4b609c" stroke-width="0.6"/>
<circle cx="302.40" cy="212.40" r="1.6" fill="#6a7eb0" stroke="#4b609c" stroke-width="0.6"/>
<circle cx="307.40" cy="241.50" r="1.6" fill="#6a7eb0" stroke="#4b609c" stroke-width="0.6"/>
<circle cx="219.60" cy="265.80" r="1.6" fill="#32528c" stroke="#233f78" stroke-width="0.6"/>
<circle cx="219.60" cy="330.40" r="1.6" fill="#32528c" stroke="#233f78" stroke-width="0.6"/>
<circle cx="263.00" cy="284.00" r="1.6" fill="#32528c" stroke="#233f78" stroke-width="0.6"/>
<circle cx="255.60" cy="287.70" r="1.6" fill="#32528c" stroke="#233f78" stroke-width="0.6"/>
<circle cx="268.00" cy="293.30" r="1.6" fill="#32528c" stroke="#233f78" stroke-width="0.6"/>
<circle cx="266.00" cy="300.60" r="1.6" fill="#32528c" stroke="#233f78" stroke-width="0.6"/>
<circle cx="260.90" cy="308.50" r="1.6" fill="#32528c" stroke="#233f78" stroke-width="0.6"/>
<circle cx="264.00" cy="309.20" r="1.6" fill="#32528c" stroke="#233f78" stroke-width="0.6"/>
<circle cx="267.30" cy="308.80" r="1.6" fill="#32528c" stroke="#233f78" stroke-width="0.6"/>
<circle cx="262.00" cy="314.50" r="1.6" fill="#32528c" stroke="#233f78" stroke-width="0.6"/>
<circle cx="266.00" cy="319.40" r="1.6" fill="#32528c" stroke="#233f78" stroke-width="0.6"/>
<circle cx="271.50" cy="317.90" r="1.6" fill="#32528c" stroke="#233f78" stroke-width="0.6"/>
<circle cx="256.70" cy="322.10" r="1.6" fill="#32528c" stroke="#233f78" stroke-width="0.6"/>
<circle cx="261.20" cy="325.50" r="1.6" fill="#32528c" stroke="#233f78" stroke-width="0.6"/>
<circle cx="264.20" cy="324.80" r="1.6" fill="#32528c" stroke="#233f78" stroke-width="0.6"/>
<circle cx="265.80" cy="324.40" r="1.6" fill="#32528c" stroke="#233f78" stroke-width="0.6"/>
<circle cx="264.00" cy="326.40" r="1.6" fill="#32528c" stroke="#233f78" stroke-width="0.6"/>
<circle cx="268.50" cy="335.00" r="1.6" fill="#32528c" stroke="#233f78" stroke-width="0.6"/>
<circle cx="267.00" cy="351.70" r="1.6" fill="#32528c" stroke="#233f78" stroke-width="0.6"/>
<circle cx="311.10" cy="253.60" r="1.6" fill="#32528c" stroke="#233f78" stroke-width="0.6"/>
<circle cx="297.60" cy="261.00" r="1.6" fill="#32528c" stroke="#233f78" stroke-width="0.6"/>
<circle cx="302.90" cy="265.80" r="1.6" fill="#32528c" stroke="#233f78" stroke-width="0.6"/>
<circle cx="297.00" cy="274.90" r="1.6" fill="#32528c" stroke="#233f78" stroke-width="0.6"/>
<circle cx="291.30" cy="276.30" r="1.6" fill="#32528c" stroke="#233f78" stroke-width="0.6"/>
<circle cx="292.80" cy="276.80" r="1.6" fill="#32528c" stroke="#233f78" stroke-width="0.6"/>
<circle cx="295.10" cy="278.80" r="1.6" fill="#32528c" stroke="#233f78" stroke-width="0.6"/>
<circle cx="301.00" cy="278.10" r="1.6" fill="#32528c" stroke="#233f78" stroke-width="0.6"/>
<circle cx="310.30" cy="274.90" r="1.6" fill="#32528c" stroke="#233f78" stroke-width="0.6"/>
<circle cx="310.90" cy="278.50" r="1.6" fill="#32528c" stroke="#233f78" stroke-width="0.6"/>
<circle cx="303.30" cy="285.70" r="1.6" fill="#32528c" stroke="#233f78" stroke-width="0.6"/>
<circle cx="305.60" cy="284.40" r="1.6" fill="#32528c" stroke="#233f78" stroke-width="0.6"/>
<circle cx="304.60" cy="287.70" r="1.6" fill="#32528c" stroke="#233f78" stroke-width="0.6"/>
<circle cx="313.40" cy="285.70" r="1.6" fill="#32528c" stroke="#233f78" stroke-width="0.6"/>
<circle cx="296.60" cy="290.50" r="1.6" fill="#32528c" stroke="#233f78" stroke-width="0.6"/>
<circle cx="303.90" cy="290.70" r="1.6" fill="#32528c" stroke="#233f78" stroke-width="0.6"/>
<circle cx="311.50" cy="290.50" r="1.6" fill="#32528c" stroke="#233f78" stroke-width="0.6"/>
<circle cx="311.30" cy="296.70" r="1.6" fill="#32528c" stroke="#233f78" stroke-width="0.6"/>
<circle cx="313.40" cy="307.70" r="1.6" fill="#32528c" stroke="#233f78" stroke-width="0.6"/>
<circle cx="315.30" cy="308.40" r="1.6" fill="#32528c" stroke="#233f78" stroke-width="0.6"/>
<circle cx="313.80" cy="312.10" r="1.6" fill="#32528c" stroke="#233f78" stroke-width="0.6"/>
<circle cx="313.60" cy="305.80" r="1.6" fill="#32528c" stroke="#233f78" stroke-width="0.6"/>
<circle cx="314.20" cy="309.60" r="1.6" fill="#32528c" stroke="#233f78" stroke-width="0.6"/>
<circle cx="313.00" cy="314.20" r="1.6" fill="#32528c" stroke="#233f78" stroke-width="0.6"/>
<circle cx="312.60" cy="318.40" r="1.6" fill="#32528c" stroke="#233f78" stroke-width="0.6"/>
<circle cx="301.70" cy="317.20" r="1.6" fill="#32528c" stroke="#233f78" stroke-width="0.6"/>
<circle cx="310.90" cy="316.60" r="1.6" fill="#32528c" stroke="#233f78" stroke-width="0.6"/>
<circle cx="313.80" cy="315.90" r="1.6" fill="#32528c" stroke="#233f78" stroke-width="0.6"/>
<circle cx="304.60" cy="320.40" r="1.6" fill="#32528c" stroke="#233f78" stroke-width="0.6"/>
<circle cx="309.60" cy="322.60" r="1.6" fill="#32528c" stroke="#233f78" stroke-width="0.6"/>
<circle cx="297.60" cy="326.90" r="1.6" fill="#32528c" stroke="#233f78" stroke-width="0.6"/>
<circle cx="310.90" cy="327.30" r="1.6" fill="#32528c" stroke="#233f78" stroke-width="0.6"/>
<circle cx="315.30" cy="325.70" r="1.6" fill="#32528c" stroke="#233f78" stroke-width="0.6"/>
<circle cx="313.00" cy="332.30" r="1.6" fill="#32528c" stroke="#233f78" stroke-width="0.6"/>
<circle cx="315.30" cy="337.60" r="1.6" fill="#32528c" stroke="#233f78" stroke-width="0.6"/>
<circle cx="317.20" cy="339.90" r="1.6" fill="#32528c" stroke="#233f78" stroke-width="0.6"/>
<circle cx="320.10" cy="338.90" r="1.6" fill="#32528c" stroke="#233f78" stroke-width="0.6"/>
<circle cx="307.70" cy="341.40" r="1.6" fill="#32528c" stroke="#233f78" stroke-width="0.6"/>
<circle cx="313.80" cy="343.30" r="1.6" fill="#32528c" stroke="#233f78" stroke-width="0.6"/>
<circle cx="309.60" cy="348.00" r="1.6" fill="#32528c" stroke="#233f78" stroke-width="0.6"/>
<circle cx="312.80" cy="349.20" r="1.6" fill="#32528c" stroke="#233f78" stroke-width="0.6"/>
<circle cx="310.90" cy="352.10" r="1.6" fill="#32528c" stroke="#233f78" stroke-width="0.6"/>
<circle cx="296.40" cy="204.40" r="1.6" fill="#32528c" stroke="#233f78" stroke-width="0.6"/>
<circle cx="303.50" cy="238.20" r="1.6" fill="#32528c" stroke="#233f78" stroke-width="0.6"/>
<circle cx="303.30" cy="258.90" r="1.6" fill="#b3193f" stroke="#9c1133" stroke-width="0.6"/>
<circle cx="313.40" cy="274.30" r="1.6" fill="#b3193f" stroke="#9c1133" stroke-width="0.6"/>
<circle cx="308.40" cy="311.80" r="1.6" fill="#b3193f" stroke="#9c1133" stroke-width="0.6"/>
<circle cx="305.80" cy="316.30" r="1.6" fill="#b3193f" stroke="#9c1133" stroke-width="0.6"/>
<circle cx="314.30" cy="320.10" r="1.6" fill="#b3193f" stroke="#9c1133" stroke-width="0.6"/>
<circle cx="307.30" cy="194.20" r="1.6" fill="#b3193f" stroke="#9c1133" stroke-width="0.6"/>
<circle cx="307.00" cy="210.90" r="1.6" fill="#b3193f" stroke="#9c1133" stroke-width="0.6"/>
<circle cx="306.20" cy="224.10" r="1.6" fill="#b3193f" stroke="#9c1133" stroke-width="0.6"/>
<circle cx="309.50" cy="227.90" r="1.6" fill="#b3193f" stroke="#9c1133" stroke-width="0.6"/>
<circle cx="303.90" cy="239.20" r="1.6" fill="#b3193f" stroke="#9c1133" stroke-width="0.6"/>
<circle cx="303.90" cy="242.30" r="1.6" fill="#b3193f" stroke="#9c1133" stroke-width="0.6"/>
<circle cx="301.70" cy="207.90" r="1.55" fill="#b3193f" stroke="#2a4a86" stroke-width="1.1"/>
<circle cx="294.80" cy="212.70" r="1.55" fill="#b3193f" stroke="#2a4a86" stroke-width="1.1"/>
<circle cx="305.50" cy="219.80" r="1.55" fill="#b3193f" stroke="#2a4a86" stroke-width="1.1"/>
<circle cx="303.70" cy="238.60" r="1.55" fill="#b3193f" stroke="#2a4a86" stroke-width="1.1"/>
<circle cx="309.20" cy="239.40" r="1.55" fill="#b3193f" stroke="#2a4a86" stroke-width="1.1"/>
<ellipse cx="305.4" cy="216.9" rx="21.6" ry="30.8" fill="none" stroke="#b8233f" stroke-width="1.0"/>
<line x1="327.20" y1="222.30" x2="363.20" y2="222.30" stroke="#b8233f" stroke-width="1.1" stroke-dasharray="1 0.9"/>
<text x="340.00" y="302.00" font-size="3.9" text-anchor="start" stroke="#555" stroke-width="0.03" fill="#555" textLength="24.6" lengthAdjust="spacingAndGlyphs">FAB subclass</text>
<circle cx="353.00" cy="307.10" r="1.75" fill="#b0163c"/>
<text x="357.60" y="308.60" font-size="4.2" text-anchor="start" stroke="#444" stroke-width="0.03" fill="#444">M0</text>
<circle cx="353.00" cy="313.22" r="1.75" fill="#1f3f80"/>
<text x="357.60" y="314.72" font-size="4.2" text-anchor="start" stroke="#444" stroke-width="0.03" fill="#444">M1</text>
<circle cx="353.00" cy="319.34" r="1.75" fill="#2b4b8b"/>
<text x="357.60" y="320.84" font-size="4.2" text-anchor="start" stroke="#444" stroke-width="0.03" fill="#444">M2</text>
<circle cx="353.00" cy="325.46" r="1.75" fill="#4a64a0"/>
<text x="357.60" y="326.96" font-size="4.2" text-anchor="start" stroke="#444" stroke-width="0.03" fill="#444">M3</text>
<circle cx="353.00" cy="331.58" r="1.75" fill="#7a8abf"/>
<text x="357.60" y="333.08" font-size="4.2" text-anchor="start" stroke="#444" stroke-width="0.03" fill="#444">M4</text>
<circle cx="353.00" cy="337.70" r="1.75" fill="#b4bcda"/>
<text x="357.60" y="339.20" font-size="4.2" text-anchor="start" stroke="#444" stroke-width="0.03" fill="#444">M5</text>
<circle cx="373.80" cy="307.10" r="1.95" fill="none" stroke="#2d4d88" stroke-width="0.9"/>
<text x="378.80" y="308.50" font-size="3.8" text-anchor="start" stroke="#444" stroke-width="0.03" fill="#444" textLength="32" lengthAdjust="spacingAndGlyphs"><tspan font-style="italic">RUNX1</tspan> mutations</text>
<rect x="363.0" y="186.6" width="150.9" height="85.7" rx="12.5" ry="12.5" fill="none" stroke="#c4506c" stroke-width="1.0"/>
<text x="385.60" y="209.40" font-size="4.15" text-anchor="end" font-style="italic" fill="#333">CRHBP</text>
<text x="385.60" y="214.21" font-size="4.15" text-anchor="end" font-style="italic" fill="#333">HLF</text>
<text x="385.60" y="219.02" font-size="4.15" text-anchor="end" font-style="italic" fill="#333">NRIP1</text>
<text x="385.60" y="223.83" font-size="4.15" text-anchor="end" font-style="italic" fill="#333">TNFRSF21</text>
<text x="385.60" y="228.64" font-size="4.15" text-anchor="end" font-style="italic" fill="#333">SCN3A</text>
<text x="385.60" y="233.45" font-size="4.15" text-anchor="end" font-style="italic" fill="#333">BCL11A</text>
<text x="385.60" y="238.26" font-size="4.15" text-anchor="end" font-style="italic" fill="#333">RBPMS</text>
<text x="385.60" y="243.07" font-size="4.15" text-anchor="end" font-style="italic" fill="#333">PRDX2</text>
<text x="385.60" y="247.88" font-size="4.15" text-anchor="end" font-style="italic" fill="#333">SMAD1</text>
<text x="385.60" y="252.69" font-size="4.15" text-anchor="end" font-style="italic" fill="#333">NKAIN2</text>
<text x="385.60" y="257.50" font-size="4.15" text-anchor="end" font-style="italic" fill="#333">GNAI1</text>
<text x="385.60" y="262.31" font-size="4.15" text-anchor="end" font-style="italic" fill="#333">LPIN1</text>
<text x="385.60" y="267.12" font-size="4.15" text-anchor="end" font-style="italic" fill="#333">MMP28</text>
<text x="394.60" y="218.50" font-size="5.8" text-anchor="middle" font-weight="bold" fill="#222" textLength="41.7" lengthAdjust="spacingAndGlyphs" transform="rotate(-90 394.60 218.50)">Enrichment score (ES)</text>
<line x1="413.70" y1="200.50" x2="413.70" y2="237.00" stroke="#ececec" stroke-width="0.5"/>
<line x1="420.60" y1="200.50" x2="420.60" y2="237.00" stroke="#ececec" stroke-width="0.5"/>
<line x1="427.50" y1="200.50" x2="427.50" y2="237.00" stroke="#ececec" stroke-width="0.5"/>
<line x1="434.40" y1="200.50" x2="434.40" y2="237.00" stroke="#ececec" stroke-width="0.5"/>
<line x1="441.30" y1="200.50" x2="441.30" y2="237.00" stroke="#ececec" stroke-width="0.5"/>
<line x1="448.20" y1="200.50" x2="448.20" y2="237.00" stroke="#ececec" stroke-width="0.5"/>
<line x1="455.10" y1="200.50" x2="455.10" y2="237.00" stroke="#ececec" stroke-width="0.5"/>
<line x1="462.00" y1="200.50" x2="462.00" y2="237.00" stroke="#ececec" stroke-width="0.5"/>
<line x1="468.90" y1="200.50" x2="468.90" y2="237.00" stroke="#ececec" stroke-width="0.5"/>
<line x1="475.80" y1="200.50" x2="475.80" y2="237.00" stroke="#ececec" stroke-width="0.5"/>
<line x1="482.70" y1="200.50" x2="482.70" y2="237.00" stroke="#ececec" stroke-width="0.5"/>
<line x1="489.60" y1="200.50" x2="489.60" y2="237.00" stroke="#ececec" stroke-width="0.5"/>
<line x1="496.50" y1="200.50" x2="496.50" y2="237.00" stroke="#ececec" stroke-width="0.5"/>
<line x1="410.70" y1="208.00" x2="502.40" y2="208.00" stroke="#ececec" stroke-width="0.5"/>
<line x1="410.70" y1="214.20" x2="502.40" y2="214.20" stroke="#ececec" stroke-width="0.5"/>
<line x1="410.70" y1="220.40" x2="502.40" y2="220.40" stroke="#ececec" stroke-width="0.5"/>
<line x1="410.70" y1="226.10" x2="502.40" y2="226.10" stroke="#ececec" stroke-width="0.5"/>
<line x1="410.70" y1="231.80" x2="502.40" y2="231.80" stroke="#ececec" stroke-width="0.5"/>
<line x1="407.20" y1="206.60" x2="410.70" y2="206.60" stroke="#333" stroke-width="0.7"/>
<text x="403.80" y="208.00" font-size="4.0" text-anchor="end" stroke="#222" stroke-width="0.12" fill="#222">0.5</text>
<line x1="407.20" y1="212.50" x2="410.70" y2="212.50" stroke="#333" stroke-width="0.7"/>
<text x="403.80" y="213.90" font-size="4.0" text-anchor="end" stroke="#222" stroke-width="0.12" fill="#222">0.4</text>
<line x1="407.20" y1="218.50" x2="410.70" y2="218.50" stroke="#333" stroke-width="0.7"/>
<text x="403.80" y="219.90" font-size="4.0" text-anchor="end" stroke="#222" stroke-width="0.12" fill="#222">0.3</text>
<line x1="407.20" y1="224.60" x2="410.70" y2="224.60" stroke="#333" stroke-width="0.7"/>
<text x="403.80" y="226.00" font-size="4.0" text-anchor="end" stroke="#222" stroke-width="0.12" fill="#222">0.2</text>
<line x1="407.20" y1="230.70" x2="410.70" y2="230.70" stroke="#333" stroke-width="0.7"/>
<text x="403.80" y="232.10" font-size="4.0" text-anchor="end" stroke="#222" stroke-width="0.12" fill="#222">0.1</text>
<rect x="410.70" y="236.60" width="91.70" height="1.60" fill="#e6e6e6" stroke="none" stroke-width="1"/>
<line x1="411.80" y1="239.00" x2="411.80" y2="251.60" stroke="#777" stroke-width="0.45"/>
<line x1="413.30" y1="239.00" x2="413.30" y2="251.60" stroke="#777" stroke-width="0.45"/>
<line x1="415.20" y1="239.00" x2="415.20" y2="251.60" stroke="#777" stroke-width="0.45"/>
<line x1="417.00" y1="239.00" x2="417.00" y2="251.60" stroke="#777" stroke-width="0.45"/>
<line x1="422.50" y1="239.00" x2="422.50" y2="251.60" stroke="#777" stroke-width="0.45"/>
<line x1="427.70" y1="239.00" x2="427.70" y2="251.60" stroke="#777" stroke-width="0.45"/>
<line x1="428.80" y1="239.00" x2="428.80" y2="251.60" stroke="#777" stroke-width="0.45"/>
<line x1="430.90" y1="239.00" x2="430.90" y2="251.60" stroke="#777" stroke-width="0.45"/>
<line x1="432.70" y1="239.00" x2="432.70" y2="251.60" stroke="#777" stroke-width="0.45"/>
<line x1="439.20" y1="239.00" x2="439.20" y2="251.60" stroke="#777" stroke-width="0.45"/>
<line x1="445.40" y1="239.00" x2="445.40" y2="251.60" stroke="#777" stroke-width="0.45"/>
<line x1="448.90" y1="239.00" x2="448.90" y2="251.60" stroke="#777" stroke-width="0.45"/>
<line x1="474.20" y1="239.00" x2="474.20" y2="251.60" stroke="#777" stroke-width="0.45"/>
<rect x="410.80" y="251.90" width="11.70" height="2.80" fill="#d6454d" stroke="none" stroke-width="1"/>
<rect x="422.50" y="251.90" width="13.90" height="2.80" fill="#d6677b" stroke="none" stroke-width="1"/>
<rect x="436.40" y="251.90" width="12.90" height="2.80" fill="#f0b2d2" stroke="none" stroke-width="1"/>
<rect x="449.30" y="251.90" width="12.00" height="2.80" fill="#dcdcf4" stroke="none" stroke-width="1"/>
<rect x="461.30" y="251.90" width="9.70" height="2.80" fill="#bfbfe8" stroke="none" stroke-width="1"/>
<rect x="471.00" y="251.90" width="8.50" height="2.80" fill="#6a6ac0" stroke="none" stroke-width="1"/>
<rect x="479.50" y="251.90" width="18.80" height="2.80" fill="#3a3a98" stroke="none" stroke-width="1"/>
<polyline points="411.0,233.5 411.7,226.1 413.1,226.6 413.8,219.0 415.2,220.3 416.0,217.6 417.8,213.9 421.3,216.9 423.4,211.3 427.1,213.7 428.0,211.5 429.0,210.2 430.8,208.1 433.2,202.5 438.8,206.0 439.6,204.2 444.8,207.4 445.8,205.9 447.8,207.2 449.0,205.6 473.4,222.3 474.4,220.5 498.1,237.0" fill="none" stroke="#78b446" stroke-width="0.9" stroke-linejoin="round"/>
<rect x="410.70" y="200.50" width="91.70" height="54.10" fill="none" stroke="#777" stroke-width="0.7"/>
<line x1="410.70" y1="200.50" x2="502.40" y2="200.50" stroke="#444" stroke-width="0.8"/>
<line x1="410.70" y1="200.50" x2="410.70" y2="254.60" stroke="#222" stroke-width="1.0"/>
<text x="456.90" y="198.10" font-size="4.5" text-anchor="middle" stroke="#111" stroke-width="0.1" font-weight="bold" fill="#111" textLength="46.7" lengthAdjust="spacingAndGlyphs">Jaatinen Hematopoietic</text>
<text x="466.90" y="206.60" font-size="3.0" text-anchor="start" stroke="#555" stroke-width="0.05" fill="#555" textLength="13.1" lengthAdjust="spacingAndGlyphs">NES 2.73</text>
<text x="466.90" y="211.40" font-size="3.0" text-anchor="start" stroke="#555" stroke-width="0.05" fill="#555" textLength="27" lengthAdjust="spacingAndGlyphs">FDR q-value &lt;0.001</text>
<line x1="397.00" y1="232.20" x2="410.70" y2="239.20" stroke="#222" stroke-width="0.7"/>
<line x1="398.20" y1="258.60" x2="410.70" y2="251.20" stroke="#222" stroke-width="0.7"/>
<text x="407.70" y="263.30" font-size="5.0" text-anchor="start" stroke="#111" stroke-width="0.12" font-weight="bold" font-style="italic" fill="#111" textLength="39.2" lengthAdjust="spacingAndGlyphs">SETBP1<tspan font-size="2.6" dy="-1.8">hi</tspan><tspan dy="1.8">;HOXA9</tspan><tspan font-size="2.6" dy="-1.8">hi</tspan></text>
<text x="470.60" y="263.30" font-size="5.0" text-anchor="start" stroke="#111" stroke-width="0.12" font-weight="bold" font-style="italic" fill="#111" textLength="39.6" lengthAdjust="spacingAndGlyphs">SETBP1<tspan font-size="2.6" dy="-1.8">low</tspan><tspan dy="1.8">; HOXA9</tspan><tspan font-size="2.6" dy="-1.8">lo</tspan></text>
<rect x="0.5" y="0.5" width="519" height="395" fill="none" stroke="#000" stroke-width="1.2"/>
</svg>
</body></html>
